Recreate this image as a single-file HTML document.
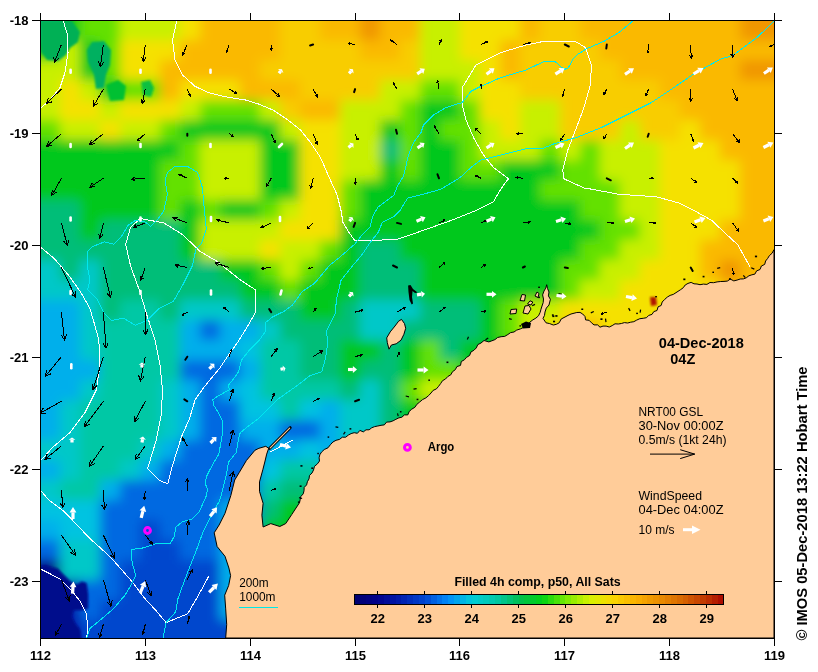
<!DOCTYPE html><html><head><meta charset="utf-8"><style>html,body{margin:0;padding:0;background:#fff;}svg{display:block;}text{font-family:"Liberation Sans",Arial,sans-serif;}</style></head><body>
<svg width="818" height="672" viewBox="0 0 818 672">
<defs><clipPath id="mc"><rect x="41" y="21" width="733" height="617"/></clipPath><filter id="bl" x="-5%" y="-5%" width="110%" height="110%"><feGaussianBlur stdDeviation="6"/></filter></defs>
<rect width="818" height="672" fill="#fff"/>
<g clip-path="url(#mc)"><g filter="url(#bl)" shape-rendering="crispEdges">
<rect x="20" y="0" width="40" height="20" fill="#00be78"/>
<rect x="60" y="0" width="20" height="20" fill="#00c81e"/>
<rect x="80" y="0" width="40" height="20" fill="#64e100"/>
<rect x="120" y="0" width="60" height="20" fill="#c8f000"/>
<rect x="180" y="0" width="20" height="20" fill="#f5e100"/>
<rect x="200" y="0" width="80" height="20" fill="#fab900"/>
<rect x="280" y="0" width="40" height="20" fill="#f8cd00"/>
<rect x="320" y="0" width="40" height="20" fill="#fab900"/>
<rect x="360" y="0" width="20" height="20" fill="#f09600"/>
<rect x="380" y="0" width="40" height="20" fill="#fab900"/>
<rect x="420" y="0" width="40" height="20" fill="#c8f000"/>
<rect x="460" y="0" width="60" height="20" fill="#f5e100"/>
<rect x="520" y="0" width="20" height="20" fill="#fab900"/>
<rect x="540" y="0" width="40" height="20" fill="#f8cd00"/>
<rect x="580" y="0" width="160" height="20" fill="#fab900"/>
<rect x="740" y="0" width="60" height="20" fill="#f09600"/>
<rect x="20" y="20" width="40" height="20" fill="#00be78"/>
<rect x="60" y="20" width="20" height="20" fill="#00c81e"/>
<rect x="80" y="20" width="40" height="20" fill="#64e100"/>
<rect x="120" y="20" width="60" height="20" fill="#c8f000"/>
<rect x="180" y="20" width="20" height="20" fill="#f5e100"/>
<rect x="200" y="20" width="80" height="20" fill="#fab900"/>
<rect x="280" y="20" width="40" height="20" fill="#f8cd00"/>
<rect x="320" y="20" width="40" height="20" fill="#fab900"/>
<rect x="360" y="20" width="20" height="20" fill="#f09600"/>
<rect x="380" y="20" width="40" height="20" fill="#fab900"/>
<rect x="420" y="20" width="40" height="20" fill="#c8f000"/>
<rect x="460" y="20" width="60" height="20" fill="#f5e100"/>
<rect x="520" y="20" width="20" height="20" fill="#fab900"/>
<rect x="540" y="20" width="40" height="20" fill="#f8cd00"/>
<rect x="580" y="20" width="160" height="20" fill="#fab900"/>
<rect x="740" y="20" width="60" height="20" fill="#f09600"/>
<rect x="20" y="40" width="40" height="20" fill="#00c81e"/>
<rect x="60" y="40" width="20" height="20" fill="#c8f000"/>
<rect x="80" y="40" width="20" height="20" fill="#00c81e"/>
<rect x="100" y="40" width="20" height="20" fill="#64e100"/>
<rect x="120" y="40" width="60" height="20" fill="#f5e100"/>
<rect x="180" y="40" width="100" height="20" fill="#fab900"/>
<rect x="280" y="40" width="80" height="20" fill="#f8cd00"/>
<rect x="360" y="40" width="40" height="20" fill="#fab900"/>
<rect x="400" y="40" width="20" height="20" fill="#f8cd00"/>
<rect x="420" y="40" width="40" height="20" fill="#c8f000"/>
<rect x="460" y="40" width="40" height="20" fill="#f5e100"/>
<rect x="500" y="40" width="20" height="20" fill="#fab900"/>
<rect x="520" y="40" width="80" height="20" fill="#f8cd00"/>
<rect x="600" y="40" width="200" height="20" fill="#fab900"/>
<rect x="20" y="60" width="60" height="20" fill="#c8f000"/>
<rect x="80" y="60" width="20" height="20" fill="#00c81e"/>
<rect x="100" y="60" width="20" height="20" fill="#64e100"/>
<rect x="120" y="60" width="40" height="20" fill="#f5e100"/>
<rect x="160" y="60" width="100" height="20" fill="#fab900"/>
<rect x="260" y="60" width="160" height="20" fill="#f8cd00"/>
<rect x="420" y="60" width="60" height="20" fill="#c8f000"/>
<rect x="480" y="60" width="20" height="20" fill="#f5e100"/>
<rect x="500" y="60" width="20" height="20" fill="#fab900"/>
<rect x="520" y="60" width="100" height="20" fill="#f8cd00"/>
<rect x="620" y="60" width="120" height="20" fill="#fab900"/>
<rect x="740" y="60" width="60" height="20" fill="#f09600"/>
<rect x="20" y="80" width="40" height="20" fill="#c8f000"/>
<rect x="60" y="80" width="20" height="20" fill="#f5e100"/>
<rect x="80" y="80" width="20" height="20" fill="#c8f000"/>
<rect x="100" y="80" width="20" height="20" fill="#00c81e"/>
<rect x="120" y="80" width="40" height="20" fill="#64e100"/>
<rect x="160" y="80" width="20" height="20" fill="#fab900"/>
<rect x="180" y="80" width="60" height="20" fill="#f5e100"/>
<rect x="240" y="80" width="60" height="20" fill="#fab900"/>
<rect x="300" y="80" width="80" height="20" fill="#f8cd00"/>
<rect x="380" y="80" width="40" height="20" fill="#c8f000"/>
<rect x="420" y="80" width="40" height="20" fill="#64e100"/>
<rect x="460" y="80" width="20" height="20" fill="#c8f000"/>
<rect x="480" y="80" width="40" height="20" fill="#f5e100"/>
<rect x="520" y="80" width="140" height="20" fill="#f8cd00"/>
<rect x="660" y="80" width="140" height="20" fill="#fab900"/>
<rect x="20" y="100" width="40" height="20" fill="#c8f000"/>
<rect x="60" y="100" width="40" height="20" fill="#f5e100"/>
<rect x="100" y="100" width="20" height="20" fill="#c8f000"/>
<rect x="120" y="100" width="60" height="20" fill="#f5e100"/>
<rect x="180" y="100" width="20" height="20" fill="#c8f000"/>
<rect x="200" y="100" width="60" height="20" fill="#64e100"/>
<rect x="260" y="100" width="20" height="20" fill="#c8f000"/>
<rect x="280" y="100" width="20" height="20" fill="#f8cd00"/>
<rect x="300" y="100" width="40" height="20" fill="#fab900"/>
<rect x="340" y="100" width="60" height="20" fill="#c8f000"/>
<rect x="400" y="100" width="20" height="20" fill="#64e100"/>
<rect x="420" y="100" width="40" height="20" fill="#00c81e"/>
<rect x="460" y="100" width="20" height="20" fill="#64e100"/>
<rect x="480" y="100" width="40" height="20" fill="#f5e100"/>
<rect x="520" y="100" width="40" height="20" fill="#c8f000"/>
<rect x="560" y="100" width="120" height="20" fill="#f8cd00"/>
<rect x="680" y="100" width="120" height="20" fill="#fab900"/>
<rect x="20" y="120" width="40" height="20" fill="#64e100"/>
<rect x="60" y="120" width="40" height="20" fill="#c8f000"/>
<rect x="100" y="120" width="20" height="20" fill="#f5e100"/>
<rect x="120" y="120" width="40" height="20" fill="#c8f000"/>
<rect x="160" y="120" width="20" height="20" fill="#64e100"/>
<rect x="180" y="120" width="100" height="20" fill="#00c81e"/>
<rect x="280" y="120" width="20" height="20" fill="#c8f000"/>
<rect x="300" y="120" width="40" height="20" fill="#f5e100"/>
<rect x="340" y="120" width="40" height="20" fill="#c8f000"/>
<rect x="380" y="120" width="20" height="20" fill="#00c81e"/>
<rect x="400" y="120" width="20" height="20" fill="#64e100"/>
<rect x="420" y="120" width="20" height="20" fill="#00c81e"/>
<rect x="440" y="120" width="40" height="20" fill="#64e100"/>
<rect x="480" y="120" width="20" height="20" fill="#c8f000"/>
<rect x="500" y="120" width="20" height="20" fill="#f5e100"/>
<rect x="520" y="120" width="40" height="20" fill="#c8f000"/>
<rect x="560" y="120" width="60" height="20" fill="#f8cd00"/>
<rect x="620" y="120" width="20" height="20" fill="#c8f000"/>
<rect x="640" y="120" width="40" height="20" fill="#f8cd00"/>
<rect x="680" y="120" width="20" height="20" fill="#f5e100"/>
<rect x="700" y="120" width="100" height="20" fill="#fab900"/>
<rect x="20" y="140" width="160" height="20" fill="#00c81e"/>
<rect x="180" y="140" width="20" height="20" fill="#64e100"/>
<rect x="200" y="140" width="60" height="20" fill="#c8f000"/>
<rect x="260" y="140" width="40" height="20" fill="#00c81e"/>
<rect x="300" y="140" width="40" height="20" fill="#f5e100"/>
<rect x="340" y="140" width="40" height="20" fill="#c8f000"/>
<rect x="380" y="140" width="20" height="20" fill="#00be78"/>
<rect x="400" y="140" width="20" height="20" fill="#64e100"/>
<rect x="420" y="140" width="40" height="20" fill="#00c81e"/>
<rect x="460" y="140" width="20" height="20" fill="#64e100"/>
<rect x="480" y="140" width="60" height="20" fill="#c8f000"/>
<rect x="540" y="140" width="20" height="20" fill="#64e100"/>
<rect x="560" y="140" width="20" height="20" fill="#c8f000"/>
<rect x="580" y="140" width="20" height="20" fill="#64e100"/>
<rect x="600" y="140" width="60" height="20" fill="#c8f000"/>
<rect x="660" y="140" width="60" height="20" fill="#f5e100"/>
<rect x="720" y="140" width="80" height="20" fill="#fab900"/>
<rect x="20" y="160" width="140" height="20" fill="#00c81e"/>
<rect x="160" y="160" width="40" height="20" fill="#64e100"/>
<rect x="200" y="160" width="60" height="20" fill="#c8f000"/>
<rect x="260" y="160" width="40" height="20" fill="#00c81e"/>
<rect x="300" y="160" width="40" height="20" fill="#f5e100"/>
<rect x="340" y="160" width="40" height="20" fill="#c8f000"/>
<rect x="380" y="160" width="20" height="20" fill="#00c81e"/>
<rect x="400" y="160" width="20" height="20" fill="#64e100"/>
<rect x="420" y="160" width="40" height="20" fill="#00c81e"/>
<rect x="460" y="160" width="40" height="20" fill="#64e100"/>
<rect x="500" y="160" width="60" height="20" fill="#00c81e"/>
<rect x="560" y="160" width="40" height="20" fill="#64e100"/>
<rect x="600" y="160" width="60" height="20" fill="#c8f000"/>
<rect x="660" y="160" width="80" height="20" fill="#f5e100"/>
<rect x="740" y="160" width="60" height="20" fill="#fab900"/>
<rect x="20" y="180" width="140" height="20" fill="#00c81e"/>
<rect x="160" y="180" width="40" height="20" fill="#64e100"/>
<rect x="200" y="180" width="60" height="20" fill="#c8f000"/>
<rect x="260" y="180" width="40" height="20" fill="#00c81e"/>
<rect x="300" y="180" width="40" height="20" fill="#f5e100"/>
<rect x="340" y="180" width="20" height="20" fill="#64e100"/>
<rect x="360" y="180" width="180" height="20" fill="#00c81e"/>
<rect x="540" y="180" width="80" height="20" fill="#64e100"/>
<rect x="620" y="180" width="40" height="20" fill="#c8f000"/>
<rect x="660" y="180" width="80" height="20" fill="#f5e100"/>
<rect x="740" y="180" width="60" height="20" fill="#fab900"/>
<rect x="20" y="200" width="60" height="20" fill="#00be78"/>
<rect x="80" y="200" width="80" height="20" fill="#00c81e"/>
<rect x="160" y="200" width="20" height="20" fill="#64e100"/>
<rect x="180" y="200" width="20" height="20" fill="#00c81e"/>
<rect x="200" y="200" width="20" height="20" fill="#64e100"/>
<rect x="220" y="200" width="40" height="20" fill="#00c81e"/>
<rect x="260" y="200" width="20" height="20" fill="#64e100"/>
<rect x="280" y="200" width="20" height="20" fill="#c8f000"/>
<rect x="300" y="200" width="40" height="20" fill="#f5e100"/>
<rect x="340" y="200" width="20" height="20" fill="#64e100"/>
<rect x="360" y="200" width="220" height="20" fill="#00c81e"/>
<rect x="580" y="200" width="40" height="20" fill="#64e100"/>
<rect x="620" y="200" width="40" height="20" fill="#c8f000"/>
<rect x="660" y="200" width="80" height="20" fill="#f5e100"/>
<rect x="740" y="200" width="60" height="20" fill="#fab900"/>
<rect x="20" y="220" width="60" height="20" fill="#00be78"/>
<rect x="80" y="220" width="20" height="20" fill="#00c81e"/>
<rect x="100" y="220" width="80" height="20" fill="#00be78"/>
<rect x="180" y="220" width="20" height="20" fill="#00c81e"/>
<rect x="200" y="220" width="80" height="20" fill="#c8f000"/>
<rect x="280" y="220" width="60" height="20" fill="#f5e100"/>
<rect x="340" y="220" width="260" height="20" fill="#00c81e"/>
<rect x="600" y="220" width="40" height="20" fill="#64e100"/>
<rect x="640" y="220" width="20" height="20" fill="#c8f000"/>
<rect x="660" y="220" width="60" height="20" fill="#f5e100"/>
<rect x="720" y="220" width="80" height="20" fill="#fab900"/>
<rect x="20" y="240" width="160" height="20" fill="#00be78"/>
<rect x="180" y="240" width="20" height="20" fill="#00c81e"/>
<rect x="200" y="240" width="60" height="20" fill="#c8f000"/>
<rect x="260" y="240" width="20" height="20" fill="#f5e100"/>
<rect x="280" y="240" width="40" height="20" fill="#c8f000"/>
<rect x="320" y="240" width="20" height="20" fill="#64e100"/>
<rect x="340" y="240" width="20" height="20" fill="#00c81e"/>
<rect x="360" y="240" width="40" height="20" fill="#00be78"/>
<rect x="400" y="240" width="180" height="20" fill="#00c81e"/>
<rect x="580" y="240" width="40" height="20" fill="#64e100"/>
<rect x="620" y="240" width="40" height="20" fill="#c8f000"/>
<rect x="660" y="240" width="40" height="20" fill="#f5e100"/>
<rect x="700" y="240" width="100" height="20" fill="#fab900"/>
<rect x="20" y="260" width="40" height="20" fill="#00c8c8"/>
<rect x="60" y="260" width="20" height="20" fill="#00be78"/>
<rect x="80" y="260" width="20" height="20" fill="#00c8c8"/>
<rect x="100" y="260" width="120" height="20" fill="#00be78"/>
<rect x="220" y="260" width="40" height="20" fill="#00c81e"/>
<rect x="260" y="260" width="20" height="20" fill="#64e100"/>
<rect x="280" y="260" width="20" height="20" fill="#c8f000"/>
<rect x="300" y="260" width="20" height="20" fill="#64e100"/>
<rect x="320" y="260" width="40" height="20" fill="#00c81e"/>
<rect x="360" y="260" width="60" height="20" fill="#00be78"/>
<rect x="420" y="260" width="140" height="20" fill="#00c81e"/>
<rect x="560" y="260" width="40" height="20" fill="#64e100"/>
<rect x="600" y="260" width="40" height="20" fill="#c8f000"/>
<rect x="640" y="260" width="60" height="20" fill="#f5e100"/>
<rect x="700" y="260" width="20" height="20" fill="#fab900"/>
<rect x="720" y="260" width="20" height="20" fill="#f09600"/>
<rect x="740" y="260" width="60" height="20" fill="#fab900"/>
<rect x="20" y="280" width="80" height="20" fill="#00c8c8"/>
<rect x="100" y="280" width="140" height="20" fill="#00be78"/>
<rect x="240" y="280" width="40" height="20" fill="#00c81e"/>
<rect x="280" y="280" width="20" height="20" fill="#64e100"/>
<rect x="300" y="280" width="60" height="20" fill="#00c81e"/>
<rect x="360" y="280" width="60" height="20" fill="#00be78"/>
<rect x="420" y="280" width="140" height="20" fill="#00c81e"/>
<rect x="560" y="280" width="20" height="20" fill="#64e100"/>
<rect x="580" y="280" width="40" height="20" fill="#c8f000"/>
<rect x="620" y="280" width="100" height="20" fill="#f5e100"/>
<rect x="720" y="280" width="80" height="20" fill="#fab900"/>
<rect x="20" y="300" width="60" height="20" fill="#00afeb"/>
<rect x="80" y="300" width="20" height="20" fill="#00c8c8"/>
<rect x="100" y="300" width="20" height="20" fill="#00be78"/>
<rect x="120" y="300" width="40" height="20" fill="#00c8a5"/>
<rect x="160" y="300" width="20" height="20" fill="#00be78"/>
<rect x="180" y="300" width="60" height="20" fill="#00c8c8"/>
<rect x="240" y="300" width="60" height="20" fill="#00be78"/>
<rect x="300" y="300" width="40" height="20" fill="#00c81e"/>
<rect x="340" y="300" width="20" height="20" fill="#00be78"/>
<rect x="360" y="300" width="60" height="20" fill="#00c8c8"/>
<rect x="420" y="300" width="60" height="20" fill="#00be78"/>
<rect x="480" y="300" width="20" height="20" fill="#00c81e"/>
<rect x="500" y="300" width="20" height="20" fill="#64e100"/>
<rect x="520" y="300" width="40" height="20" fill="#c8f000"/>
<rect x="560" y="300" width="140" height="20" fill="#f5e100"/>
<rect x="700" y="300" width="100" height="20" fill="#fab900"/>
<rect x="20" y="320" width="60" height="20" fill="#00afeb"/>
<rect x="80" y="320" width="20" height="20" fill="#00c8c8"/>
<rect x="100" y="320" width="80" height="20" fill="#00c8a5"/>
<rect x="180" y="320" width="20" height="20" fill="#00afeb"/>
<rect x="200" y="320" width="20" height="20" fill="#0069e1"/>
<rect x="220" y="320" width="40" height="20" fill="#00afeb"/>
<rect x="260" y="320" width="20" height="20" fill="#00c8c8"/>
<rect x="280" y="320" width="80" height="20" fill="#00be78"/>
<rect x="360" y="320" width="40" height="20" fill="#00c8c8"/>
<rect x="400" y="320" width="80" height="20" fill="#00be78"/>
<rect x="480" y="320" width="20" height="20" fill="#00c81e"/>
<rect x="500" y="320" width="20" height="20" fill="#64e100"/>
<rect x="520" y="320" width="20" height="20" fill="#c8f000"/>
<rect x="540" y="320" width="20" height="20" fill="#f5e100"/>
<rect x="560" y="320" width="40" height="20" fill="#fab900"/>
<rect x="600" y="320" width="100" height="20" fill="#f5e100"/>
<rect x="700" y="320" width="100" height="20" fill="#fab900"/>
<rect x="20" y="340" width="60" height="20" fill="#00afeb"/>
<rect x="80" y="340" width="20" height="20" fill="#00c8c8"/>
<rect x="100" y="340" width="80" height="20" fill="#00c8a5"/>
<rect x="180" y="340" width="60" height="20" fill="#00afeb"/>
<rect x="240" y="340" width="20" height="20" fill="#00c3e1"/>
<rect x="260" y="340" width="40" height="20" fill="#00c8a5"/>
<rect x="300" y="340" width="40" height="20" fill="#00be78"/>
<rect x="340" y="340" width="40" height="20" fill="#00c81e"/>
<rect x="380" y="340" width="20" height="20" fill="#00be78"/>
<rect x="400" y="340" width="20" height="20" fill="#00c81e"/>
<rect x="420" y="340" width="20" height="20" fill="#64e100"/>
<rect x="440" y="340" width="20" height="20" fill="#00be78"/>
<rect x="460" y="340" width="100" height="20" fill="#00c81e"/>
<rect x="560" y="340" width="20" height="20" fill="#c8f000"/>
<rect x="580" y="340" width="120" height="20" fill="#f5e100"/>
<rect x="700" y="340" width="100" height="20" fill="#fab900"/>
<rect x="20" y="360" width="80" height="20" fill="#00afeb"/>
<rect x="100" y="360" width="80" height="20" fill="#00c8a5"/>
<rect x="180" y="360" width="60" height="20" fill="#0069e1"/>
<rect x="240" y="360" width="20" height="20" fill="#00afeb"/>
<rect x="260" y="360" width="40" height="20" fill="#00c8a5"/>
<rect x="300" y="360" width="40" height="20" fill="#00be78"/>
<rect x="340" y="360" width="20" height="20" fill="#00c81e"/>
<rect x="360" y="360" width="40" height="20" fill="#00be78"/>
<rect x="400" y="360" width="20" height="20" fill="#00c81e"/>
<rect x="420" y="360" width="40" height="20" fill="#64e100"/>
<rect x="460" y="360" width="100" height="20" fill="#00c81e"/>
<rect x="560" y="360" width="20" height="20" fill="#c8f000"/>
<rect x="580" y="360" width="120" height="20" fill="#f5e100"/>
<rect x="700" y="360" width="100" height="20" fill="#fab900"/>
<rect x="20" y="380" width="60" height="20" fill="#00afeb"/>
<rect x="80" y="380" width="20" height="20" fill="#00c8c8"/>
<rect x="100" y="380" width="60" height="20" fill="#00c8a5"/>
<rect x="160" y="380" width="20" height="20" fill="#00c8c8"/>
<rect x="180" y="380" width="20" height="20" fill="#00afeb"/>
<rect x="200" y="380" width="20" height="20" fill="#0069e1"/>
<rect x="220" y="380" width="20" height="20" fill="#00afeb"/>
<rect x="240" y="380" width="20" height="20" fill="#00c3e1"/>
<rect x="260" y="380" width="80" height="20" fill="#00c8a5"/>
<rect x="340" y="380" width="20" height="20" fill="#00be78"/>
<rect x="360" y="380" width="20" height="20" fill="#00c8c8"/>
<rect x="380" y="380" width="20" height="20" fill="#00be78"/>
<rect x="400" y="380" width="20" height="20" fill="#64e100"/>
<rect x="420" y="380" width="40" height="20" fill="#c8f000"/>
<rect x="460" y="380" width="60" height="20" fill="#64e100"/>
<rect x="520" y="380" width="40" height="20" fill="#c8f000"/>
<rect x="560" y="380" width="140" height="20" fill="#f5e100"/>
<rect x="700" y="380" width="100" height="20" fill="#fab900"/>
<rect x="20" y="400" width="40" height="20" fill="#00afeb"/>
<rect x="60" y="400" width="20" height="20" fill="#00c8c8"/>
<rect x="80" y="400" width="80" height="20" fill="#00c8a5"/>
<rect x="160" y="400" width="20" height="20" fill="#00c8c8"/>
<rect x="180" y="400" width="20" height="20" fill="#00afeb"/>
<rect x="200" y="400" width="40" height="20" fill="#0069e1"/>
<rect x="240" y="400" width="40" height="20" fill="#00c3e1"/>
<rect x="280" y="400" width="20" height="20" fill="#00c8a5"/>
<rect x="300" y="400" width="20" height="20" fill="#00c3e1"/>
<rect x="320" y="400" width="20" height="20" fill="#00afeb"/>
<rect x="340" y="400" width="40" height="20" fill="#00c8c8"/>
<rect x="380" y="400" width="20" height="20" fill="#00be78"/>
<rect x="400" y="400" width="120" height="20" fill="#00c81e"/>
<rect x="520" y="400" width="40" height="20" fill="#64e100"/>
<rect x="560" y="400" width="40" height="20" fill="#c8f000"/>
<rect x="600" y="400" width="100" height="20" fill="#f5e100"/>
<rect x="700" y="400" width="100" height="20" fill="#fab900"/>
<rect x="20" y="420" width="40" height="20" fill="#00afeb"/>
<rect x="60" y="420" width="20" height="20" fill="#00c8c8"/>
<rect x="80" y="420" width="80" height="20" fill="#00c8a5"/>
<rect x="160" y="420" width="20" height="20" fill="#00c8c8"/>
<rect x="180" y="420" width="20" height="20" fill="#00afeb"/>
<rect x="200" y="420" width="40" height="20" fill="#0069e1"/>
<rect x="240" y="420" width="40" height="20" fill="#00afeb"/>
<rect x="280" y="420" width="40" height="20" fill="#0069e1"/>
<rect x="320" y="420" width="20" height="20" fill="#00afeb"/>
<rect x="340" y="420" width="40" height="20" fill="#00c8c8"/>
<rect x="380" y="420" width="20" height="20" fill="#00be78"/>
<rect x="400" y="420" width="100" height="20" fill="#00c81e"/>
<rect x="500" y="420" width="40" height="20" fill="#64e100"/>
<rect x="540" y="420" width="40" height="20" fill="#c8f000"/>
<rect x="580" y="420" width="120" height="20" fill="#f5e100"/>
<rect x="700" y="420" width="100" height="20" fill="#fab900"/>
<rect x="20" y="440" width="60" height="20" fill="#00c8c8"/>
<rect x="80" y="440" width="60" height="20" fill="#00c8a5"/>
<rect x="140" y="440" width="20" height="20" fill="#00c8c8"/>
<rect x="160" y="440" width="20" height="20" fill="#00afeb"/>
<rect x="180" y="440" width="80" height="20" fill="#0069e1"/>
<rect x="260" y="440" width="40" height="20" fill="#00afeb"/>
<rect x="300" y="440" width="20" height="20" fill="#00c3e1"/>
<rect x="320" y="440" width="20" height="20" fill="#00afeb"/>
<rect x="340" y="440" width="40" height="20" fill="#00c8c8"/>
<rect x="380" y="440" width="20" height="20" fill="#00be78"/>
<rect x="400" y="440" width="100" height="20" fill="#00c81e"/>
<rect x="500" y="440" width="40" height="20" fill="#64e100"/>
<rect x="540" y="440" width="40" height="20" fill="#c8f000"/>
<rect x="580" y="440" width="120" height="20" fill="#f5e100"/>
<rect x="700" y="440" width="100" height="20" fill="#fab900"/>
<rect x="20" y="460" width="40" height="20" fill="#00afeb"/>
<rect x="60" y="460" width="20" height="20" fill="#00c8c8"/>
<rect x="80" y="460" width="40" height="20" fill="#00c8a5"/>
<rect x="120" y="460" width="20" height="20" fill="#00c8c8"/>
<rect x="140" y="460" width="20" height="20" fill="#00afeb"/>
<rect x="160" y="460" width="100" height="20" fill="#0069e1"/>
<rect x="260" y="460" width="20" height="20" fill="#00c3e1"/>
<rect x="280" y="460" width="40" height="20" fill="#00c8a5"/>
<rect x="320" y="460" width="40" height="20" fill="#00c8c8"/>
<rect x="360" y="460" width="20" height="20" fill="#00be78"/>
<rect x="380" y="460" width="120" height="20" fill="#00c81e"/>
<rect x="500" y="460" width="40" height="20" fill="#64e100"/>
<rect x="540" y="460" width="40" height="20" fill="#c8f000"/>
<rect x="580" y="460" width="120" height="20" fill="#f5e100"/>
<rect x="700" y="460" width="100" height="20" fill="#fab900"/>
<rect x="20" y="480" width="40" height="20" fill="#00c8c8"/>
<rect x="60" y="480" width="40" height="20" fill="#00c8a5"/>
<rect x="100" y="480" width="20" height="20" fill="#00afeb"/>
<rect x="120" y="480" width="140" height="20" fill="#0069e1"/>
<rect x="260" y="480" width="20" height="20" fill="#00c8a5"/>
<rect x="280" y="480" width="80" height="20" fill="#00be78"/>
<rect x="360" y="480" width="140" height="20" fill="#00c81e"/>
<rect x="500" y="480" width="40" height="20" fill="#64e100"/>
<rect x="540" y="480" width="40" height="20" fill="#c8f000"/>
<rect x="580" y="480" width="120" height="20" fill="#f5e100"/>
<rect x="700" y="480" width="100" height="20" fill="#fab900"/>
<rect x="20" y="500" width="80" height="20" fill="#00c3e1"/>
<rect x="100" y="500" width="120" height="20" fill="#0069e1"/>
<rect x="220" y="500" width="20" height="20" fill="#00afeb"/>
<rect x="240" y="500" width="20" height="20" fill="#0069e1"/>
<rect x="260" y="500" width="20" height="20" fill="#00be78"/>
<rect x="280" y="500" width="220" height="20" fill="#00c81e"/>
<rect x="500" y="500" width="40" height="20" fill="#64e100"/>
<rect x="540" y="500" width="40" height="20" fill="#c8f000"/>
<rect x="580" y="500" width="120" height="20" fill="#f5e100"/>
<rect x="700" y="500" width="100" height="20" fill="#fab900"/>
<rect x="20" y="520" width="40" height="20" fill="#00afeb"/>
<rect x="60" y="520" width="40" height="20" fill="#00c3e1"/>
<rect x="100" y="520" width="40" height="20" fill="#0069e1"/>
<rect x="140" y="520" width="20" height="20" fill="#0046cd"/>
<rect x="160" y="520" width="60" height="20" fill="#0069e1"/>
<rect x="220" y="520" width="20" height="20" fill="#00afeb"/>
<rect x="240" y="520" width="20" height="20" fill="#0069e1"/>
<rect x="260" y="520" width="240" height="20" fill="#00c81e"/>
<rect x="500" y="520" width="40" height="20" fill="#64e100"/>
<rect x="540" y="520" width="40" height="20" fill="#c8f000"/>
<rect x="580" y="520" width="120" height="20" fill="#f5e100"/>
<rect x="700" y="520" width="100" height="20" fill="#fab900"/>
<rect x="20" y="540" width="40" height="20" fill="#0069e1"/>
<rect x="60" y="540" width="40" height="20" fill="#00c8c8"/>
<rect x="100" y="540" width="40" height="20" fill="#0069e1"/>
<rect x="140" y="540" width="40" height="20" fill="#0046cd"/>
<rect x="180" y="540" width="40" height="20" fill="#0069e1"/>
<rect x="220" y="540" width="20" height="20" fill="#00afeb"/>
<rect x="240" y="540" width="20" height="20" fill="#0069e1"/>
<rect x="260" y="540" width="20" height="20" fill="#00be78"/>
<rect x="280" y="540" width="220" height="20" fill="#00c81e"/>
<rect x="500" y="540" width="40" height="20" fill="#64e100"/>
<rect x="540" y="540" width="40" height="20" fill="#c8f000"/>
<rect x="580" y="540" width="120" height="20" fill="#f5e100"/>
<rect x="700" y="540" width="100" height="20" fill="#fab900"/>
<rect x="20" y="560" width="40" height="20" fill="#000082"/>
<rect x="60" y="560" width="40" height="20" fill="#00c8c8"/>
<rect x="100" y="560" width="20" height="20" fill="#0069e1"/>
<rect x="120" y="560" width="100" height="20" fill="#0046cd"/>
<rect x="220" y="560" width="20" height="20" fill="#00afeb"/>
<rect x="240" y="560" width="20" height="20" fill="#0046cd"/>
<rect x="260" y="560" width="20" height="20" fill="#00be78"/>
<rect x="280" y="560" width="220" height="20" fill="#00c81e"/>
<rect x="500" y="560" width="40" height="20" fill="#64e100"/>
<rect x="540" y="560" width="40" height="20" fill="#c8f000"/>
<rect x="580" y="560" width="120" height="20" fill="#f5e100"/>
<rect x="700" y="560" width="100" height="20" fill="#fab900"/>
<rect x="20" y="580" width="40" height="20" fill="#000082"/>
<rect x="60" y="580" width="20" height="20" fill="#001eaa"/>
<rect x="80" y="580" width="40" height="20" fill="#0069e1"/>
<rect x="120" y="580" width="100" height="20" fill="#0046cd"/>
<rect x="220" y="580" width="20" height="20" fill="#00afeb"/>
<rect x="240" y="580" width="20" height="20" fill="#0046cd"/>
<rect x="260" y="580" width="20" height="20" fill="#00be78"/>
<rect x="280" y="580" width="220" height="20" fill="#00c81e"/>
<rect x="500" y="580" width="40" height="20" fill="#64e100"/>
<rect x="540" y="580" width="40" height="20" fill="#c8f000"/>
<rect x="580" y="580" width="120" height="20" fill="#f5e100"/>
<rect x="700" y="580" width="100" height="20" fill="#fab900"/>
<rect x="20" y="600" width="40" height="20" fill="#000082"/>
<rect x="60" y="600" width="20" height="20" fill="#001eaa"/>
<rect x="80" y="600" width="20" height="20" fill="#0069e1"/>
<rect x="100" y="600" width="120" height="20" fill="#0046cd"/>
<rect x="220" y="600" width="20" height="20" fill="#00afeb"/>
<rect x="240" y="600" width="20" height="20" fill="#0046cd"/>
<rect x="260" y="600" width="20" height="20" fill="#00be78"/>
<rect x="280" y="600" width="220" height="20" fill="#00c81e"/>
<rect x="500" y="600" width="40" height="20" fill="#64e100"/>
<rect x="540" y="600" width="40" height="20" fill="#c8f000"/>
<rect x="580" y="600" width="120" height="20" fill="#f5e100"/>
<rect x="700" y="600" width="100" height="20" fill="#fab900"/>
<rect x="20" y="620" width="40" height="20" fill="#000082"/>
<rect x="60" y="620" width="20" height="20" fill="#001eaa"/>
<rect x="80" y="620" width="180" height="20" fill="#0046cd"/>
<rect x="260" y="620" width="20" height="20" fill="#00be78"/>
<rect x="280" y="620" width="220" height="20" fill="#00c81e"/>
<rect x="500" y="620" width="40" height="20" fill="#64e100"/>
<rect x="540" y="620" width="40" height="20" fill="#c8f000"/>
<rect x="580" y="620" width="120" height="20" fill="#f5e100"/>
<rect x="700" y="620" width="100" height="20" fill="#fab900"/>
<rect x="20" y="640" width="40" height="20" fill="#000082"/>
<rect x="60" y="640" width="20" height="20" fill="#001eaa"/>
<rect x="80" y="640" width="180" height="20" fill="#0046cd"/>
<rect x="260" y="640" width="20" height="20" fill="#00be78"/>
<rect x="280" y="640" width="220" height="20" fill="#00c81e"/>
<rect x="500" y="640" width="40" height="20" fill="#64e100"/>
<rect x="540" y="640" width="40" height="20" fill="#c8f000"/>
<rect x="580" y="640" width="120" height="20" fill="#f5e100"/>
<rect x="700" y="640" width="100" height="20" fill="#fab900"/>
</g></g>
<defs><filter id="bl2" x="-10%" y="-10%" width="120%" height="120%"><feGaussianBlur stdDeviation="1.2"/></filter></defs>
<g clip-path="url(#mc)"><g filter="url(#bl2)">
<path d="M38.0 567.0 L44.8 565.3 L51.2 567.0 L57.7 568.6 L62.5 573.4 L67.3 578.2 L72.1 583.0 L77.0 584.6 L81.8 581.4 L86.6 583.0 L88.2 594.3 L88.2 608.7 L81.8 610.3 L73.7 610.3 L72.1 616.7 L75.3 623.2 L80.2 629.6 L81.8 640.0 L38.0 640.0 Z" fill="#000a8c"/>
<path d="M41.0 21.0 L72.0 21.0 L80.0 32.0 L78.0 42.0 L70.0 48.0 L66.0 55.0 L58.0 61.0 L47.0 60.0 L41.0 52.0 Z" fill="#00b055"/>
<path d="M92.0 42.0 L104.0 41.0 L111.0 50.0 L110.0 65.0 L106.0 75.0 L104.0 88.0 L96.0 89.0 L94.0 75.0 L88.0 62.0 L87.0 50.0 Z" fill="#00b060"/>
<path d="M106.0 85.0 L118.0 80.0 L126.0 86.0 L124.0 100.0 L110.0 101.0 Z" fill="#00c030"/>
<path d="M141.0 82.0 L150.0 80.0 L154.0 88.0 L151.0 97.0 L143.0 95.0 Z" fill="#10c040"/>
<path d="M650.0 297.0 L656.0 297.0 L657.0 305.0 L651.0 306.0 Z" fill="#b01800"/>
</g></g>
<g clip-path="url(#mc)" fill="none" stroke-linejoin="round" shape-rendering="crispEdges">
<path d="M63.0 20.0 L67.5 35.0 L68.0 52.5 L65.0 72.5 L60.0 87.5 L50.0 100.0 L41.3 107.5 L40.0 108.5" stroke="#fff" stroke-width="1"/>
<path d="M177.0 20.0 L172.5 40.0 L175.0 60.0 L182.5 75.0 L195.0 86.3 L208.0 92.5 L223.0 96.3 L245.5 100.0 L258.0 103.8 L273.0 110.0 L288.0 120.0 L300.5 130.0 L310.5 142.5 L320.5 157.5 L329.3 177.6 L337.2 195.2 L341.1 210.9 L343.0 222.6 L348.9 232.4 L354.8 240.6 L370.4 240.6 L397.8 239.2 L417.4 232.4 L436.9 225.5 L451.0 220.5 L476.0 210.5 L493.5 201.8 L498.5 193.0 L503.5 185.0 L508.5 178.8 L503.5 175.0 L493.5 167.5 L483.5 155.0 L473.5 137.5 L466.0 120.0 L462.3 105.0 L462.3 87.5 L476.0 65.0 L501.0 52.5 L526.0 45.0 L544.0 41.3 L576.5 42.0 L585.3 47.5 L591.5 65.0 L590.3 85.0 L584.0 107.5 L576.5 127.5 L567.8 150.0 L562.8 170.0 L564.0 178.8 L584.0 188.0 L587.8 188.5 L619.0 194.3 L656.5 196.8 L679.0 203.0 L694.0 210.5 L712.0 220.5 L723.1 231.3 L737.8 244.8 L750.0 266.8" stroke="#fff" stroke-width="1"/>
<path d="M40.0 246.7 L54.3 258.6 L68.6 275.2 L80.5 291.9 L90.0 308.6 L94.8 325.2 L98.8 340.0 L100.0 365.0 L96.3 390.0 L85.0 412.5 L70.0 432.5 L52.5 447.5 L41.3 460.0 L40.0 461.0" stroke="#fff" stroke-width="1"/>
<path d="M140.0 218.5 L130.5 227.6 L125.7 244.3 L130.5 265.7 L140.0 291.9 L147.1 315.7 L155.0 340.0 L160.0 365.0 L162.5 390.0 L161.3 415.0 L156.3 440.0 L147.5 468.8 L160.0 480.7 L167.8 483.7 L171.7 468.0 L176.6 452.4 L181.5 436.7 L189.3 419.1 L195.2 399.6 L205.0 385.9 L209.9 380.0 L220.0 367.8 L227.8 356.1 L237.6 342.4 L247.4 326.7 L255.6 312.1 L255.2 289.6 L241.5 280.8 L227.8 270.0 L216.0 260.7 L200.0 251.4 L182.9 234.8 L163.8 222.9 L140.0 218.5" stroke="#fff" stroke-width="1"/>
<path d="M40.0 489.8 L48.8 500.0 L64.4 511.8 L71.4 519.0 L90.0 538.7 L100.0 547.6 L109.6 556.3 L119.0 566.7 L132.8 582.5 L144.5 598.1 L156.3 610.9 L166.1 622.6 L187.6 613.8 L197.4 597.2 L209.1 575.6" stroke="#fff" stroke-width="1"/>
<path d="M40.5 569.0 L59.5 578.6 L71.4 590.5 L80.0 601.0 L85.9 612.8 L87.8 624.5 L86.8 638.0" stroke="#fff" stroke-width="1"/>
<path d="M270.6 451.7 L293.1 440.0" stroke="#fff" stroke-width="1"/>
<path d="M634.0 20.0 L619.0 32.5 L604.0 41.3 L586.5 48.8 L576.8 55.0 L572.4 59.9 L570.4 64.3 L568.0 68.2 L565.0 69.2 L561.1 67.2 L557.7 63.8 L554.8 61.4 L544.0 61.5 L526.0 70.0 L501.0 77.5 L481.0 86.3 L471.0 91.3 L462.3 102.5 L446.0 107.5 L433.5 115.0 L423.5 125.0 L421.0 132.5 L413.5 142.5 L408.5 155.0 L403.7 175.6 L397.8 185.4 L393.9 195.2 L378.2 206.9 L372.4 216.7 L370.4 226.5 L362.6 234.3 L354.8 244.1 L339.1 257.8 L329.3 265.6 L317.0 280.5 L313.9 283.7 L302.2 291.5 L292.4 305.2 L284.5 311.1 L272.8 316.9 L265.0 322.8 L266.0 330.6 L259.1 340.4 L249.3 350.2 L241.5 360.0 L238.6 371.7 L231.7 381.5 L228.5 384.9 L229.4 389.8 L218.7 395.6 L212.8 399.6 L213.8 405.4 L218.7 413.3 L222.6 421.1 L222.6 432.8 L220.6 444.5 L218.7 454.3 L212.8 464.1 L206.9 475.8 L205.0 483.0 L207.5 489.0 L206.4 495.6 L199.5 511.3 L191.7 519.1 L181.9 522.1 L176.1 526.9 L174.1 536.7 L170.2 543.6 L156.5 543.6 L140.9 548.5 L131.1 549.4 L132.1 562.2 L135.7 575.6 L130.9 585.4 L125.0 595.2 L113.3 608.9 L99.6 620.6 L89.8 628.5 L86.8 638.0" stroke="#00e8f0" stroke-width="1"/>
<path d="M774.0 21.2 L757.4 37.1 L732.9 55.5 L720.7 59.1 L712.0 63.8 L694.0 73.8 L674.0 87.5 L651.5 102.5 L626.5 115.0 L601.5 127.5 L576.5 137.5 L554.0 143.8 L544.0 148.0 L526.0 148.8 L501.0 155.0 L481.0 160.0 L471.0 167.5 L460.0 177.6 L440.8 189.3 L423.2 194.2 L407.6 198.1 L399.8 210.9 L393.9 216.7 L382.2 222.6 L378.2 232.4 L370.4 242.2 L362.6 253.9 L352.8 265.6 L341.1 280.1 L336.4 299.3 L335.4 313.0 L326.6 330.6 L327.6 344.3 L325.6 358.0 L321.7 371.7 L310.0 375.6 L298.0 385.0 L288.0 392.0 L277.4 399.6 L257.8 419.1 L246.1 427.9 L240.2 432.8 L238.2 440.6 L236.3 452.4 L228.5 462.2 L226.5 473.9 L223.6 485.6 L221.0 496.0 L219.1 501.5 L211.3 515.2 L203.4 530.9 L195.6 552.4 L187.8 571.9 L181.9 587.6 L177.8 599.1 L175.8 611.8 L166.1 622.6 L163.1 638.0" stroke="#00e8f0" stroke-width="1"/>
<path d="M165.0 180.0 L167.5 172.5 L175.0 166.3 L187.5 166.3 L197.5 172.5 L202.5 188.0 L203.8 204.4 L206.3 228.9 L201.4 243.6 L196.0 249.0 L192.4 265.7 L182.9 284.8 L173.3 301.4 L159.0 308.6 L147.1 320.5 L135.2 325.2 L123.3 318.1 L111.4 320.5 L104.3 313.3 L97.1 299.0 L87.6 289.5 L90.0 280.0 L87.6 268.1 L87.6 251.4 L92.4 246.7 L104.3 241.9 L113.8 244.3 L121.0 237.1 L128.1 225.2 L135.2 220.5 L144.8 221.7 L150.7 226.4 L156.7 220.5 L163.8 211.0 L167.4 194.3 L165.0 180.0" stroke="#00e8f0" stroke-width="1"/>
</g>
<path d="M225.7 638.0 L226.7 624.5 L225.7 608.9 L224.7 595.2 L228.7 585.4 L230.6 575.6 L228.9 568.0 L225.0 556.3 L217.1 546.5 L214.2 532.8 L219.1 525.0 L225.0 513.3 L230.8 495.6 L234.7 480.0 L239.3 472.4 L246.4 460.5 L255.0 450.2 L258.9 448.3 L265.8 446.3 L268.7 448.3 L266.7 454.1 L264.8 462.0 L262.8 469.8 L259.5 481.9 L259.5 491.4 L263.1 503.3 L261.9 515.2 L263.1 527.0 L270.8 523.6 L279.8 526.5 L285.7 523.6 L291.7 514.6 L299.5 502.7 L300.2 499.6 L300.9 496.4 L303.2 493.9 L304.0 490.8 L304.2 487.4 L306.6 484.9 L307.4 481.7 L309.0 478.9 L309.5 475.4 L312.0 473.0 L313.5 470.0 L314.5 466.3 L317.4 463.9 L319.5 461.0 L319.1 457.8 L319.8 454.8 L321.5 452.1 L324.3 449.5 L328.0 447.8 L330.4 444.7 L332.9 442.0 L336.0 440.3 L339.5 439.4 L342.3 437.2 L345.7 437.2 L348.3 435.1 L351.1 433.6 L354.2 432.7 L357.4 433.3 L359.9 430.4 L363.3 431.9 L366.0 429.8 L369.1 429.8 L371.7 427.8 L374.7 426.6 L377.8 426.0 L381.0 425.3 L384.3 424.9 L386.6 422.1 L390.0 421.9 L393.1 420.8 L395.9 419.3 L398.8 417.9 L401.9 417.2 L404.4 414.9 L407.8 414.9 L409.2 411.5 L411.7 409.2 L414.9 407.3 L416.8 404.4 L419.7 402.0 L422.5 399.6 L425.9 397.9 L428.7 395.5 L431.0 393.0 L433.1 390.4 L436.4 388.9 L438.6 386.3 L440.6 383.6 L442.5 380.7 L445.5 379.0 L447.8 376.5 L450.8 374.8 L452.5 371.7 L455.3 369.7 L456.9 366.6 L460.5 365.4 L461.3 361.5 L464.4 359.8 L466.6 357.3 L469.6 355.5 L470.9 352.0 L473.9 350.3 L476.3 347.9 L477.8 344.6 L481.0 343.0 L484.0 340.5 L488.8 341.9 L491.9 340.8 L495.0 339.6 L497.6 337.5 L501.1 336.7 L504.7 336.4 L507.9 334.5 L510.6 332.6 L514.0 332.0 L516.7 330.1 L520.4 328.9 L524.0 327.2 L527.1 324.9 L529.8 322.2 L532.8 319.9 L535.9 318.1 L538.5 315.8 L540.1 312.5 L541.0 309.2 L542.0 306.0 L543.2 302.6 L543.5 299.0 L542.6 294.9 L544.0 291.0 L545.8 288.1 L546.7 284.7 L547.5 288.5 L549.0 292.0 L548.4 295.9 L550.4 299.3 L549.0 305.0 L546.3 308.1 L545.0 312.0 L544.5 315.4 L543.0 318.4 L546.0 322.8 L549.7 323.6 L553.3 325.0 L556.4 324.3 L559.2 322.8 L561.2 319.0 L565.0 317.0 L568.0 315.4 L571.0 314.0 L576.8 312.5 L580.0 312.4 L582.7 314.0 L585.0 316.5 L585.6 319.9 L589.1 320.3 L591.5 322.8 L594.0 324.9 L597.6 324.9 L600.0 327.2 L603.0 326.1 L606.1 326.1 L609.3 327.0 L612.2 325.6 L615.0 323.8 L618.3 324.0 L621.4 323.5 L624.4 322.6 L627.7 323.0 L630.7 322.2 L633.8 321.7 L636.7 320.1 L639.8 318.7 L643.2 318.3 L646.5 317.7 L648.7 315.4 L652.0 314.4 L653.8 311.6 L657.0 310.5 L658.1 306.8 L661.1 305.5 L662.2 302.0 L664.8 299.3 L667.3 297.1 L670.1 295.4 L673.3 294.4 L677.0 292.0 L680.7 289.6 L683.3 287.7 L685.2 285.0 L688.0 283.4 L691.1 282.4 L694.0 283.8 L697.0 284.0 L700.0 284.7 L703.4 284.1 L706.9 284.4 L710.0 282.5 L713.6 282.7 L717.1 281.9 L720.7 281.5 L724.0 281.4 L727.3 281.1 L730.3 279.1 L733.8 280.9 L737.0 280.1 L740.2 279.0 L743.4 278.9 L746.3 277.8 L748.9 275.8 L751.9 274.8 L754.9 274.1 L756.6 270.9 L760.0 269.5 L761.4 266.0 L764.7 264.4 L765.6 261.0 L767.7 258.4 L769.4 255.6 L772.0 253.3 L774.0 249.7 L774.0 638.0 Z" fill="#ffcc99" stroke="#000" stroke-width="1" stroke-linejoin="miter"/>
<rect x="297.9" y="501.4" width="1.8" height="1.5" fill="#000"/>
<path d="M299.0 497.6 l3.1 0.9" stroke="#000" stroke-width="1.2"/>
<rect x="299.6" y="485.4" width="2.0" height="1.6" fill="#000"/>
<rect x="300.4" y="465.1" width="2.1" height="1.6" fill="#000"/>
<rect x="311.3" y="467.4" width="1.9" height="1.6" fill="#000"/>
<rect x="317.3" y="452.8" width="1.6" height="1.4" fill="#000"/>
<rect x="327.6" y="436.4" width="1.6" height="1.4" fill="#000"/>
<path d="M335.5 426.9 l2.8 0.5" stroke="#000" stroke-width="1.2"/>
<path d="M345.2 431.8 l-1.7 2.5" stroke="#000" stroke-width="1.2"/>
<rect x="349.5" y="428.1" width="1.8" height="1.5" fill="#000"/>
<rect x="399.9" y="411.1" width="1.6" height="1.4" fill="#000"/>
<path d="M397.5 413.3 l0.7 2.8" stroke="#000" stroke-width="1.2"/>
<path d="M405.7 396.0 l3.3 0.8" stroke="#000" stroke-width="1.2"/>
<rect x="416.6" y="398.7" width="1.8" height="1.5" fill="#000"/>
<path d="M416.6 388.6 l-3.1 0.6" stroke="#000" stroke-width="1.2"/>
<rect x="428.3" y="379.5" width="1.7" height="1.4" fill="#000"/>
<rect x="446.5" y="361.5" width="1.9" height="1.6" fill="#000"/>
<path d="M468.5 336.7 l-1.2 2.7" stroke="#000" stroke-width="1.2"/>
<path d="M488.2 337.9 l-2.7 1.9" stroke="#000" stroke-width="1.2"/>
<path d="M509.0 318.6 l2.7 0.7" stroke="#000" stroke-width="1.2"/>
<rect x="519.4" y="325.2" width="1.6" height="1.4" fill="#000"/>
<path d="M535.0 304.4 l-2.9 1.4" stroke="#000" stroke-width="1.2"/>
<rect x="538.1" y="296.6" width="1.8" height="1.5" fill="#000"/>
<rect x="538.2" y="286.6" width="1.7" height="1.4" fill="#000"/>
<path d="M558.5 293.6 l3.2 0.7" stroke="#000" stroke-width="1.2"/>
<rect x="552.3" y="315.4" width="2.1" height="1.7" fill="#000"/>
<rect x="551.9" y="314.3" width="1.8" height="1.5" fill="#000"/>
<rect x="553.0" y="320.7" width="2.1" height="1.6" fill="#000"/>
<rect x="555.3" y="315.1" width="2.2" height="1.7" fill="#000"/>
<rect x="581.3" y="308.5" width="1.9" height="1.5" fill="#000"/>
<path d="M593.8 311.5 l-3.0 1.4" stroke="#000" stroke-width="1.2"/>
<rect x="600.4" y="318.3" width="2.1" height="1.7" fill="#000"/>
<path d="M605.5 318.7 l0.5 3.4" stroke="#000" stroke-width="1.2"/>
<path d="M628.6 308.1 l1.5 2.8" stroke="#000" stroke-width="1.2"/>
<rect x="636.2" y="312.7" width="1.7" height="1.4" fill="#000"/>
<path d="M640.6 309.6 l-0.5 3.0" stroke="#000" stroke-width="1.2"/>
<rect x="655.2" y="296.0" width="1.7" height="1.4" fill="#000"/>
<rect x="683.3" y="278.5" width="2.1" height="1.7" fill="#000"/>
<rect x="702.6" y="275.8" width="1.9" height="1.6" fill="#000"/>
<rect x="712.4" y="271.6" width="1.6" height="1.4" fill="#000"/>
<rect x="729.0" y="278.2" width="1.9" height="1.6" fill="#000"/>
<path d="M720.2 267.6 l-3.0 0.7" stroke="#000" stroke-width="1.2"/>
<path d="M743.3 275.4 l2.0 2.3" stroke="#000" stroke-width="1.2"/>
<path d="M751.2 267.8 l3.1 1.3" stroke="#000" stroke-width="1.2"/>
<rect x="754.9" y="255.6" width="2.2" height="1.7" fill="#000"/>
<path d="M520.0 300.5 L522.0 294.5 L525.5 295.0 L524.5 301.0 Z" fill="#ffcc99" stroke="#000" stroke-width="1"/>
<path d="M510.0 314.0 L511.0 309.5 L516.7 309.0 L516.0 313.5 Z" fill="#ffcc99" stroke="#000" stroke-width="1"/>
<path d="M523.0 313.0 L525.0 306.0 L529.0 305.5 L531.0 309.0 L528.0 314.0 Z" fill="#ffcc99" stroke="#000" stroke-width="1"/>
<path d="M527.5 304.0 L530.0 300.8 L532.8 302.0 L531.0 305.0 Z" fill="#ffcc99" stroke="#000" stroke-width="1"/>
<path d="M535.0 296.0 L537.0 292.0 L539.0 293.5 L538.0 297.5 Z" fill="#ffcc99" stroke="#000" stroke-width="1"/>
<path d="M521 324 L526 321.5 L531 323 L530 328 L523 328.5 Z" fill="#000"/>
<path d="M401.5 319.4 L404.5 323.6 L405.7 328.3 L403.9 334.3 L401.0 340.2 L396.2 343.8 L391.4 345.0 L389.0 349.2 L387.3 342.6 L386.7 337.9 L390.2 331.9 L395.0 326.0 L398.6 321.2 Z" fill="#ffcc99" stroke="#000" stroke-width="1"/>
<path d="M408.1 285.5 L410.5 285.0 L413.0 289.0 L417.6 292.6 L415.0 293.0 L412.5 291.0 L412.0 297.0 L413.0 303.5 L411.7 304.5 L409.5 300.0 L408.5 292.0 Z" fill="#000"/>
<path d="M269.7 448.3 L290.2 427.7" stroke="#000" stroke-width="3" stroke-linecap="round"/>
<path d="M270.2 447.8 L289.7 428.2" stroke="#ffcc99" stroke-width="1.2" stroke-linecap="round"/>
<g clip-path="url(#mc)">
<path d="M61.4 44.5 L54.4 62.5 M58.7 58.6 L54.4 62.5 L53.8 56.7" stroke="#000" stroke-width="1" fill="none" stroke-linejoin="round" shape-rendering="crispEdges"/>
<path d="M103.4 44.5 L100.4 67.0 M103.8 62.1 L100.4 67.0 L98.4 61.3" stroke="#000" stroke-width="1" fill="none" stroke-linejoin="round" shape-rendering="crispEdges"/>
<path d="M145.3 44.5 L143.3 61.5 M146.1 57.2 L143.3 61.5 L141.5 56.7" stroke="#000" stroke-width="1" fill="none" stroke-linejoin="round" shape-rendering="crispEdges"/>
<path d="M187.3 44.5 L182.3 55.5 M185.1 53.2 L182.3 55.5 L182.1 51.9" stroke="#000" stroke-width="1" fill="none" stroke-linejoin="round" shape-rendering="crispEdges"/>
<path d="M229.2 44.5 L226.7 52.5 M228.5 50.7 L226.7 52.5 L226.3 50.0" stroke="#000" stroke-width="1" fill="none" stroke-linejoin="round" shape-rendering="crispEdges"/>
<path d="M271.2 44.5 L271.2 50.5 M272.3 48.3 L271.2 50.5 L270.1 48.3" stroke="#000" stroke-width="1" fill="none" stroke-linejoin="round" shape-rendering="crispEdges"/>
<path d="M313.1 44.5 L310.1 45.5" stroke="#000" stroke-width="2" stroke-linecap="round"/>
<path d="M355.1 44.5 L348.1 43.5 M350.1 44.9 L348.1 43.5 L350.5 42.7" stroke="#000" stroke-width="1" fill="none" stroke-linejoin="round" shape-rendering="crispEdges"/>
<path d="M397.0 44.5 L390.5 40.0 M391.7 42.2 L390.5 40.0 L393.0 40.3" stroke="#000" stroke-width="1" fill="none" stroke-linejoin="round" shape-rendering="crispEdges"/>
<path d="M439.0 44.5 L441.5 39.5 M439.5 41.0 L441.5 39.5 L441.5 42.0" stroke="#000" stroke-width="1" fill="none" stroke-linejoin="round" shape-rendering="crispEdges"/>
<path d="M481.0 44.5 L488.0 41.5 M485.5 41.3 L488.0 41.5 L486.4 43.4" stroke="#000" stroke-width="1" fill="none" stroke-linejoin="round" shape-rendering="crispEdges"/>
<path d="M522.9 44.5 L530.4 42.5 M528.0 42.0 L530.4 42.5 L528.5 44.2" stroke="#000" stroke-width="1" fill="none" stroke-linejoin="round" shape-rendering="crispEdges"/>
<path d="M564.8 44.5 L568.8 46.5" stroke="#000" stroke-width="2" stroke-linecap="round"/>
<path d="M606.8 44.5 L606.3 48.5" stroke="#000" stroke-width="2" stroke-linecap="round"/>
<path d="M648.7 44.5 L647.7 53.0 M649.1 50.9 L647.7 53.0 L646.8 50.6" stroke="#000" stroke-width="1" fill="none" stroke-linejoin="round" shape-rendering="crispEdges"/>
<path d="M690.7 44.5 L691.2 58.5 M693.0 54.7 L691.2 58.5 L689.2 54.8" stroke="#000" stroke-width="1" fill="none" stroke-linejoin="round" shape-rendering="crispEdges"/>
<path d="M732.6 44.5 L732.6 57.5 M734.4 54.0 L732.6 57.5 L730.8 54.0" stroke="#000" stroke-width="1" fill="none" stroke-linejoin="round" shape-rendering="crispEdges"/>
<path d="M774.6 44.5 L769.6 46.5 M772.1 46.7 L769.6 46.5 L771.2 44.6" stroke="#000" stroke-width="1" fill="none" stroke-linejoin="round" shape-rendering="crispEdges"/>
<path d="M61.4 89.1 L46.4 103.6 M52.1 101.8 L46.4 103.6 L48.4 97.9" stroke="#000" stroke-width="1" fill="none" stroke-linejoin="round" shape-rendering="crispEdges"/>
<path d="M103.4 89.1 L93.4 106.1 M98.4 102.9 L93.4 106.1 L93.8 100.2" stroke="#000" stroke-width="1" fill="none" stroke-linejoin="round" shape-rendering="crispEdges"/>
<path d="M145.3 89.1 L142.3 103.6 M145.1 100.1 L142.3 103.6 L141.1 99.3" stroke="#000" stroke-width="1" fill="none" stroke-linejoin="round" shape-rendering="crispEdges"/>
<path d="M187.3 89.1 L190.3 96.1 M190.5 93.6 L190.3 96.1 L188.4 94.5" stroke="#000" stroke-width="1" fill="none" stroke-linejoin="round" shape-rendering="crispEdges"/>
<path d="M229.2 89.1 L236.7 93.6 M235.3 91.4 L236.7 93.6 L234.1 93.4" stroke="#000" stroke-width="1" fill="none" stroke-linejoin="round" shape-rendering="crispEdges"/>
<path d="M271.2 89.1 L279.7 96.6 M278.4 93.4 L279.7 96.6 L276.4 95.8" stroke="#000" stroke-width="1" fill="none" stroke-linejoin="round" shape-rendering="crispEdges"/>
<path d="M313.1 89.1 L317.6 97.1 M317.5 94.3 L317.6 97.1 L315.3 95.6" stroke="#000" stroke-width="1" fill="none" stroke-linejoin="round" shape-rendering="crispEdges"/>
<path d="M355.1 89.1 L354.1 92.1" stroke="#000" stroke-width="2" stroke-linecap="round"/>
<path d="M397.0 89.1 L393.0 82.6 M393.2 85.1 L393.0 82.6 L395.1 83.9" stroke="#000" stroke-width="1" fill="none" stroke-linejoin="round" shape-rendering="crispEdges"/>
<path d="M439.0 89.1 L437.5 80.1 M436.7 82.7 L437.5 80.1 L439.1 82.3" stroke="#000" stroke-width="1" fill="none" stroke-linejoin="round" shape-rendering="crispEdges"/>
<path d="M481.0 89.1 L481.0 84.1 M479.9 86.3 L481.0 84.1 L482.1 86.3" stroke="#000" stroke-width="1" fill="none" stroke-linejoin="round" shape-rendering="crispEdges"/>
<path d="M564.8 89.1 L562.3 96.1 M564.1 94.4 L562.3 96.1 L562.0 93.6" stroke="#000" stroke-width="1" fill="none" stroke-linejoin="round" shape-rendering="crispEdges"/>
<path d="M606.8 89.1 L603.8 94.6 M605.9 93.2 L603.8 94.6 L603.9 92.1" stroke="#000" stroke-width="1" fill="none" stroke-linejoin="round" shape-rendering="crispEdges"/>
<path d="M648.7 89.1 L645.7 95.6 M647.7 94.1 L645.7 95.6 L645.6 93.1" stroke="#000" stroke-width="1" fill="none" stroke-linejoin="round" shape-rendering="crispEdges"/>
<path d="M690.7 89.1 L690.7 101.6 M692.4 98.3 L690.7 101.6 L689.0 98.3" stroke="#000" stroke-width="1" fill="none" stroke-linejoin="round" shape-rendering="crispEdges"/>
<path d="M732.6 89.1 L737.1 100.6 M737.5 96.9 L737.1 100.6 L734.3 98.1" stroke="#000" stroke-width="1" fill="none" stroke-linejoin="round" shape-rendering="crispEdges"/>
<path d="M61.4 133.7 L46.4 146.7 M52.2 145.3 L46.4 146.7 L48.6 141.2" stroke="#000" stroke-width="1" fill="none" stroke-linejoin="round" shape-rendering="crispEdges"/>
<path d="M103.4 133.7 L89.4 144.7 M94.6 143.7 L89.4 144.7 L91.6 139.9" stroke="#000" stroke-width="1" fill="none" stroke-linejoin="round" shape-rendering="crispEdges"/>
<path d="M145.3 133.7 L137.3 140.7 M140.4 139.9 L137.3 140.7 L138.5 137.7" stroke="#000" stroke-width="1" fill="none" stroke-linejoin="round" shape-rendering="crispEdges"/>
<path d="M187.3 133.7 L187.3 135.7" stroke="#000" stroke-width="2" stroke-linecap="round"/>
<path d="M229.2 133.7 L233.2 136.2 M231.9 134.1 L233.2 136.2 L230.7 136.0" stroke="#000" stroke-width="1" fill="none" stroke-linejoin="round" shape-rendering="crispEdges"/>
<path d="M271.2 133.7 L275.2 142.7 M275.4 139.7 L275.2 142.7 L272.9 140.8" stroke="#000" stroke-width="1" fill="none" stroke-linejoin="round" shape-rendering="crispEdges"/>
<path d="M313.1 133.7 L317.6 144.7 M317.9 141.1 L317.6 144.7 L314.9 142.4" stroke="#000" stroke-width="1" fill="none" stroke-linejoin="round" shape-rendering="crispEdges"/>
<path d="M355.1 133.7 L358.1 140.2 M358.2 137.7 L358.1 140.2 L356.1 138.7" stroke="#000" stroke-width="1" fill="none" stroke-linejoin="round" shape-rendering="crispEdges"/>
<path d="M397.0 133.7 L396.0 129.7" stroke="#000" stroke-width="2" stroke-linecap="round"/>
<path d="M439.0 133.7 L434.0 125.7 M434.2 128.5 L434.0 125.7 L436.4 127.2" stroke="#000" stroke-width="1" fill="none" stroke-linejoin="round" shape-rendering="crispEdges"/>
<path d="M481.0 133.7 L475.0 128.2 M475.9 130.5 L475.0 128.2 L477.4 128.9" stroke="#000" stroke-width="1" fill="none" stroke-linejoin="round" shape-rendering="crispEdges"/>
<path d="M522.9 133.7 L516.9 133.7 M519.1 134.8 L516.9 133.7 L519.1 132.6" stroke="#000" stroke-width="1" fill="none" stroke-linejoin="round" shape-rendering="crispEdges"/>
<path d="M564.8 133.7 L560.8 140.2 M562.9 138.9 L560.8 140.2 L561.0 137.7" stroke="#000" stroke-width="1" fill="none" stroke-linejoin="round" shape-rendering="crispEdges"/>
<path d="M606.8 133.7 L603.8 138.7 M605.9 137.4 L603.8 138.7 L604.0 136.2" stroke="#000" stroke-width="1" fill="none" stroke-linejoin="round" shape-rendering="crispEdges"/>
<path d="M648.7 133.7 L647.7 136.7" stroke="#000" stroke-width="2" stroke-linecap="round"/>
<path d="M690.7 133.7 L693.7 141.2 M693.9 138.7 L693.7 141.2 L691.8 139.6" stroke="#000" stroke-width="1" fill="none" stroke-linejoin="round" shape-rendering="crispEdges"/>
<path d="M732.6 133.7 L739.6 142.7 M739.0 139.3 L739.6 142.7 L736.5 141.2" stroke="#000" stroke-width="1" fill="none" stroke-linejoin="round" shape-rendering="crispEdges"/>
<path d="M61.4 178.3 L51.9 195.3 M56.8 192.0 L51.9 195.3 L52.1 189.5" stroke="#000" stroke-width="1" fill="none" stroke-linejoin="round" shape-rendering="crispEdges"/>
<path d="M103.4 178.3 L89.9 187.3 M94.7 186.7 L89.9 187.3 L92.3 183.1" stroke="#000" stroke-width="1" fill="none" stroke-linejoin="round" shape-rendering="crispEdges"/>
<path d="M145.3 178.3 L131.3 179.3 M135.2 180.9 L131.3 179.3 L134.9 177.1" stroke="#000" stroke-width="1" fill="none" stroke-linejoin="round" shape-rendering="crispEdges"/>
<path d="M187.3 178.3 L178.8 174.3 M180.5 176.5 L178.8 174.3 L181.6 174.2" stroke="#000" stroke-width="1" fill="none" stroke-linejoin="round" shape-rendering="crispEdges"/>
<path d="M229.2 178.3 L224.2 178.3 M226.4 179.4 L224.2 178.3 L226.4 177.2" stroke="#000" stroke-width="1" fill="none" stroke-linejoin="round" shape-rendering="crispEdges"/>
<path d="M271.2 178.3 L266.7 186.3 M269.0 184.8 L266.7 186.3 L266.8 183.5" stroke="#000" stroke-width="1" fill="none" stroke-linejoin="round" shape-rendering="crispEdges"/>
<path d="M313.1 178.3 L310.6 188.3 M312.6 186.0 L310.6 188.3 L309.9 185.3" stroke="#000" stroke-width="1" fill="none" stroke-linejoin="round" shape-rendering="crispEdges"/>
<path d="M355.1 178.3 L355.6 184.3 M356.5 182.0 L355.6 184.3 L354.3 182.2" stroke="#000" stroke-width="1" fill="none" stroke-linejoin="round" shape-rendering="crispEdges"/>
<path d="M439.0 178.3 L437.5 174.3" stroke="#000" stroke-width="2" stroke-linecap="round"/>
<path d="M481.0 178.3 L475.0 175.3 M476.5 177.3 L475.0 175.3 L477.5 175.3" stroke="#000" stroke-width="1" fill="none" stroke-linejoin="round" shape-rendering="crispEdges"/>
<path d="M522.9 178.3 L515.9 177.3 M517.9 178.7 L515.9 177.3 L518.3 176.5" stroke="#000" stroke-width="1" fill="none" stroke-linejoin="round" shape-rendering="crispEdges"/>
<path d="M606.8 178.3 L610.8 180.3" stroke="#000" stroke-width="2" stroke-linecap="round"/>
<path d="M648.7 178.3 L653.7 178.3 M651.5 177.2 L653.7 178.3 L651.5 179.4" stroke="#000" stroke-width="1" fill="none" stroke-linejoin="round" shape-rendering="crispEdges"/>
<path d="M690.7 178.3 L696.7 182.3 M695.5 180.1 L696.7 182.3 L694.2 182.0" stroke="#000" stroke-width="1" fill="none" stroke-linejoin="round" shape-rendering="crispEdges"/>
<path d="M732.6 178.3 L737.6 183.3 M736.8 180.9 L737.6 183.3 L735.2 182.5" stroke="#000" stroke-width="1" fill="none" stroke-linejoin="round" shape-rendering="crispEdges"/>
<path d="M61.4 222.9 L67.4 245.5 M68.7 239.6 L67.4 245.5 L63.4 241.0" stroke="#000" stroke-width="1" fill="none" stroke-linejoin="round" shape-rendering="crispEdges"/>
<path d="M103.4 222.9 L99.8 238.3 M102.9 234.7 L99.8 238.3 L98.7 233.7" stroke="#000" stroke-width="1" fill="none" stroke-linejoin="round" shape-rendering="crispEdges"/>
<path d="M145.3 222.9 L133.3 227.6 M137.1 228.0 L133.3 227.6 L135.9 224.7" stroke="#000" stroke-width="1" fill="none" stroke-linejoin="round" shape-rendering="crispEdges"/>
<path d="M187.3 222.9 L173.0 217.6 M176.1 221.0 L173.0 217.6 L177.5 217.1" stroke="#000" stroke-width="1" fill="none" stroke-linejoin="round" shape-rendering="crispEdges"/>
<path d="M229.2 222.9 L216.7 219.9 M219.6 222.4 L216.7 219.9 L220.4 219.0" stroke="#000" stroke-width="1" fill="none" stroke-linejoin="round" shape-rendering="crispEdges"/>
<path d="M271.2 222.9 L260.7 227.9 M264.2 228.0 L260.7 227.9 L262.8 225.1" stroke="#000" stroke-width="1" fill="none" stroke-linejoin="round" shape-rendering="crispEdges"/>
<path d="M313.1 222.9 L307.1 228.9 M309.5 228.1 L307.1 228.9 L307.9 226.5" stroke="#000" stroke-width="1" fill="none" stroke-linejoin="round" shape-rendering="crispEdges"/>
<path d="M355.1 222.9 L353.6 226.9" stroke="#000" stroke-width="2" stroke-linecap="round"/>
<path d="M397.0 222.9 L401.0 223.9" stroke="#000" stroke-width="2" stroke-linecap="round"/>
<path d="M439.0 222.9 L445.0 219.9 M442.5 219.9 L445.0 219.9 L443.5 221.9" stroke="#000" stroke-width="1" fill="none" stroke-linejoin="round" shape-rendering="crispEdges"/>
<path d="M481.0 222.9 L487.0 220.4 M484.5 220.2 L487.0 220.4 L485.4 222.3" stroke="#000" stroke-width="1" fill="none" stroke-linejoin="round" shape-rendering="crispEdges"/>
<path d="M522.9 222.9 L530.4 221.9 M528.0 221.1 L530.4 221.9 L528.3 223.3" stroke="#000" stroke-width="1" fill="none" stroke-linejoin="round" shape-rendering="crispEdges"/>
<path d="M564.8 222.9 L570.8 223.9 M568.8 222.4 L570.8 223.9 L568.4 224.7" stroke="#000" stroke-width="1" fill="none" stroke-linejoin="round" shape-rendering="crispEdges"/>
<path d="M606.8 222.9 L613.8 222.9 M611.6 221.8 L613.8 222.9 L611.6 224.0" stroke="#000" stroke-width="1" fill="none" stroke-linejoin="round" shape-rendering="crispEdges"/>
<path d="M648.7 222.9 L655.7 222.9 M653.5 221.8 L655.7 222.9 L653.5 224.0" stroke="#000" stroke-width="1" fill="none" stroke-linejoin="round" shape-rendering="crispEdges"/>
<path d="M690.7 222.9 L696.7 227.4 M695.6 225.2 L696.7 227.4 L694.2 227.0" stroke="#000" stroke-width="1" fill="none" stroke-linejoin="round" shape-rendering="crispEdges"/>
<path d="M732.6 222.9 L738.6 231.4 M738.2 228.3 L738.6 231.4 L735.8 229.9" stroke="#000" stroke-width="1" fill="none" stroke-linejoin="round" shape-rendering="crispEdges"/>
<path d="M61.4 267.5 L75.7 297.3 M75.8 291.3 L75.7 297.3 L70.9 293.7" stroke="#000" stroke-width="1" fill="none" stroke-linejoin="round" shape-rendering="crispEdges"/>
<path d="M103.4 267.5 L110.5 297.3 M111.9 291.5 L110.5 297.3 L106.6 292.7" stroke="#000" stroke-width="1" fill="none" stroke-linejoin="round" shape-rendering="crispEdges"/>
<path d="M145.3 267.5 L140.5 280.6 M143.6 277.8 L140.5 280.6 L140.0 276.4" stroke="#000" stroke-width="1" fill="none" stroke-linejoin="round" shape-rendering="crispEdges"/>
<path d="M187.3 267.5 L174.9 265.1 M177.9 267.4 L174.9 265.1 L178.5 264.1" stroke="#000" stroke-width="1" fill="none" stroke-linejoin="round" shape-rendering="crispEdges"/>
<path d="M229.2 267.5 L215.2 263.0 M218.3 266.1 L215.2 263.0 L219.6 262.3" stroke="#000" stroke-width="1" fill="none" stroke-linejoin="round" shape-rendering="crispEdges"/>
<path d="M271.2 267.5 L261.2 268.5 M264.0 269.6 L261.2 268.5 L263.7 266.9" stroke="#000" stroke-width="1" fill="none" stroke-linejoin="round" shape-rendering="crispEdges"/>
<path d="M313.1 267.5 L308.1 268.5 M310.5 269.2 L308.1 268.5 L310.1 267.0" stroke="#000" stroke-width="1" fill="none" stroke-linejoin="round" shape-rendering="crispEdges"/>
<path d="M397.0 267.5 L393.0 265.5" stroke="#000" stroke-width="2" stroke-linecap="round"/>
<path d="M439.0 267.5 L445.0 262.5 M442.6 263.1 L445.0 262.5 L444.0 264.8" stroke="#000" stroke-width="1" fill="none" stroke-linejoin="round" shape-rendering="crispEdges"/>
<path d="M481.0 267.5 L485.5 264.5 M483.0 264.8 L485.5 264.5 L484.3 266.7" stroke="#000" stroke-width="1" fill="none" stroke-linejoin="round" shape-rendering="crispEdges"/>
<path d="M522.9 267.5 L524.9 266.5" stroke="#000" stroke-width="2" stroke-linecap="round"/>
<path d="M564.8 267.5 L567.8 268.0" stroke="#000" stroke-width="2" stroke-linecap="round"/>
<path d="M690.7 267.5 L692.7 271.0" stroke="#000" stroke-width="2" stroke-linecap="round"/>
<path d="M732.6 267.5 L733.6 275.0 M734.4 272.6 L733.6 275.0 L732.2 272.9" stroke="#000" stroke-width="1" fill="none" stroke-linejoin="round" shape-rendering="crispEdges"/>
<path d="M61.4 312.1 L64.5 340.0 M66.6 334.4 L64.5 340.0 L61.2 335.0" stroke="#000" stroke-width="1" fill="none" stroke-linejoin="round" shape-rendering="crispEdges"/>
<path d="M103.4 312.1 L106.0 348.1 M108.3 342.6 L106.0 348.1 L102.9 343.0" stroke="#000" stroke-width="1" fill="none" stroke-linejoin="round" shape-rendering="crispEdges"/>
<path d="M145.3 312.1 L145.3 334.8 M148.0 329.5 L145.3 334.8 L142.6 329.5" stroke="#000" stroke-width="1" fill="none" stroke-linejoin="round" shape-rendering="crispEdges"/>
<path d="M187.3 312.1 L182.1 315.2 M184.6 315.0 L182.1 315.2 L183.4 313.1" stroke="#000" stroke-width="1" fill="none" stroke-linejoin="round" shape-rendering="crispEdges"/>
<path d="M229.2 312.1 L223.2 307.1 M224.2 309.4 L223.2 307.1 L225.6 307.7" stroke="#000" stroke-width="1" fill="none" stroke-linejoin="round" shape-rendering="crispEdges"/>
<path d="M271.2 312.1 L269.2 309.1" stroke="#000" stroke-width="2" stroke-linecap="round"/>
<path d="M313.1 312.1 L316.1 308.1 M313.9 309.2 L316.1 308.1 L315.7 310.6" stroke="#000" stroke-width="1" fill="none" stroke-linejoin="round" shape-rendering="crispEdges"/>
<path d="M355.1 312.1 L363.1 310.1 M360.7 309.5 L363.1 310.1 L361.2 311.7" stroke="#000" stroke-width="1" fill="none" stroke-linejoin="round" shape-rendering="crispEdges"/>
<path d="M397.0 312.1 L405.5 307.1 M402.5 307.3 L405.5 307.1 L403.9 309.6" stroke="#000" stroke-width="1" fill="none" stroke-linejoin="round" shape-rendering="crispEdges"/>
<path d="M439.0 312.1 L445.5 307.1 M443.0 307.6 L445.5 307.1 L444.4 309.4" stroke="#000" stroke-width="1" fill="none" stroke-linejoin="round" shape-rendering="crispEdges"/>
<path d="M481.0 312.1 L486.0 311.1 M483.6 310.4 L486.0 311.1 L484.0 312.6" stroke="#000" stroke-width="1" fill="none" stroke-linejoin="round" shape-rendering="crispEdges"/>
<path d="M606.8 312.1 L600.8 314.1 M603.3 314.5 L600.8 314.1 L602.6 312.3" stroke="#000" stroke-width="1" fill="none" stroke-linejoin="round" shape-rendering="crispEdges"/>
<path d="M61.4 356.7 L45.4 376.2 M50.9 373.8 L45.4 376.2 L46.7 370.3" stroke="#000" stroke-width="1" fill="none" stroke-linejoin="round" shape-rendering="crispEdges"/>
<path d="M103.4 356.7 L92.9 389.7 M97.1 385.4 L92.9 389.7 L91.9 383.8" stroke="#000" stroke-width="1" fill="none" stroke-linejoin="round" shape-rendering="crispEdges"/>
<path d="M145.3 356.7 L140.3 381.2 M144.0 376.5 L140.3 381.2 L138.7 375.4" stroke="#000" stroke-width="1" fill="none" stroke-linejoin="round" shape-rendering="crispEdges"/>
<path d="M187.3 356.7 L185.3 359.7" stroke="#000" stroke-width="2" stroke-linecap="round"/>
<path d="M229.2 356.7 L231.7 349.7 M229.9 351.4 L231.7 349.7 L232.0 352.2" stroke="#000" stroke-width="1" fill="none" stroke-linejoin="round" shape-rendering="crispEdges"/>
<path d="M271.2 356.7 L277.2 348.7 M274.5 350.0 L277.2 348.7 L276.7 351.7" stroke="#000" stroke-width="1" fill="none" stroke-linejoin="round" shape-rendering="crispEdges"/>
<path d="M313.1 356.7 L322.6 350.7 M319.2 351.0 L322.6 350.7 L320.9 353.6" stroke="#000" stroke-width="1" fill="none" stroke-linejoin="round" shape-rendering="crispEdges"/>
<path d="M355.1 356.7 L362.1 354.7 M359.6 354.2 L362.1 354.7 L360.3 356.4" stroke="#000" stroke-width="1" fill="none" stroke-linejoin="round" shape-rendering="crispEdges"/>
<path d="M397.0 356.7 L400.0 352.2 M397.8 353.4 L400.0 352.2 L399.7 354.7" stroke="#000" stroke-width="1" fill="none" stroke-linejoin="round" shape-rendering="crispEdges"/>
<path d="M61.4 401.3 L39.9 413.3 M45.9 413.1 L39.9 413.3 L43.2 408.3" stroke="#000" stroke-width="1" fill="none" stroke-linejoin="round" shape-rendering="crispEdges"/>
<path d="M103.4 401.3 L84.4 426.8 M89.8 424.1 L84.4 426.8 L85.4 420.9" stroke="#000" stroke-width="1" fill="none" stroke-linejoin="round" shape-rendering="crispEdges"/>
<path d="M145.3 401.3 L134.3 421.8 M139.2 418.4 L134.3 421.8 L134.4 415.8" stroke="#000" stroke-width="1" fill="none" stroke-linejoin="round" shape-rendering="crispEdges"/>
<path d="M187.3 401.3 L184.3 399.3" stroke="#000" stroke-width="2" stroke-linecap="round"/>
<path d="M229.2 401.3 L233.2 389.3 M230.5 392.0 L233.2 389.3 L233.8 393.1" stroke="#000" stroke-width="1" fill="none" stroke-linejoin="round" shape-rendering="crispEdges"/>
<path d="M271.2 401.3 L274.2 393.3 M272.3 395.0 L274.2 393.3 L274.5 395.8" stroke="#000" stroke-width="1" fill="none" stroke-linejoin="round" shape-rendering="crispEdges"/>
<path d="M313.1 401.3 L319.1 398.3 M316.6 398.3 L319.1 398.3 L317.6 400.3" stroke="#000" stroke-width="1" fill="none" stroke-linejoin="round" shape-rendering="crispEdges"/>
<path d="M355.1 401.3 L359.1 399.8" stroke="#000" stroke-width="2" stroke-linecap="round"/>
<path d="M61.4 445.9 L44.9 459.4 M50.8 458.1 L44.9 459.4 L47.3 453.9" stroke="#000" stroke-width="1" fill="none" stroke-linejoin="round" shape-rendering="crispEdges"/>
<path d="M103.4 445.9 L89.4 466.4 M94.7 463.5 L89.4 466.4 L90.2 460.4" stroke="#000" stroke-width="1" fill="none" stroke-linejoin="round" shape-rendering="crispEdges"/>
<path d="M145.3 445.9 L135.3 459.4 M139.8 457.2 L135.3 459.4 L136.1 454.4" stroke="#000" stroke-width="1" fill="none" stroke-linejoin="round" shape-rendering="crispEdges"/>
<path d="M187.3 445.9 L182.3 437.9 M182.5 440.7 L182.3 437.9 L184.7 439.4" stroke="#000" stroke-width="1" fill="none" stroke-linejoin="round" shape-rendering="crispEdges"/>
<path d="M229.2 445.9 L233.2 429.9 M230.0 433.6 L233.2 429.9 L234.3 434.7" stroke="#000" stroke-width="1" fill="none" stroke-linejoin="round" shape-rendering="crispEdges"/>
<path d="M61.4 490.5 L62.9 507.5 M64.8 502.8 L62.9 507.5 L60.2 503.2" stroke="#000" stroke-width="1" fill="none" stroke-linejoin="round" shape-rendering="crispEdges"/>
<path d="M103.4 490.5 L104.4 509.5 M106.7 504.3 L104.4 509.5 L101.5 504.6" stroke="#000" stroke-width="1" fill="none" stroke-linejoin="round" shape-rendering="crispEdges"/>
<path d="M145.3 490.5 L144.3 499.5 M145.8 497.2 L144.3 499.5 L143.3 497.0" stroke="#000" stroke-width="1" fill="none" stroke-linejoin="round" shape-rendering="crispEdges"/>
<path d="M187.3 490.5 L187.3 478.5 M185.7 481.7 L187.3 478.5 L188.9 481.7" stroke="#000" stroke-width="1" fill="none" stroke-linejoin="round" shape-rendering="crispEdges"/>
<path d="M229.2 490.5 L233.2 471.5 M229.5 476.0 L233.2 471.5 L234.7 477.1" stroke="#000" stroke-width="1" fill="none" stroke-linejoin="round" shape-rendering="crispEdges"/>
<path d="M271.2 490.5 L276.2 488.0 M273.7 488.0 L276.2 488.0 L274.7 490.0" stroke="#000" stroke-width="1" fill="none" stroke-linejoin="round" shape-rendering="crispEdges"/>
<path d="M61.4 535.1 L75.4 555.1 M74.6 549.2 L75.4 555.1 L70.1 552.3" stroke="#000" stroke-width="1" fill="none" stroke-linejoin="round" shape-rendering="crispEdges"/>
<path d="M103.4 535.1 L114.4 558.1 M114.6 552.1 L114.4 558.1 L109.6 554.5" stroke="#000" stroke-width="1" fill="none" stroke-linejoin="round" shape-rendering="crispEdges"/>
<path d="M145.3 535.1 L152.3 544.1 M151.7 540.7 L152.3 544.1 L149.2 542.6" stroke="#000" stroke-width="1" fill="none" stroke-linejoin="round" shape-rendering="crispEdges"/>
<path d="M187.3 535.1 L188.3 520.6 M186.1 524.3 L188.3 520.6 L190.0 524.6" stroke="#000" stroke-width="1" fill="none" stroke-linejoin="round" shape-rendering="crispEdges"/>
<path d="M61.4 579.7 L69.4 601.2 M70.1 595.2 L69.4 601.2 L65.0 597.1" stroke="#000" stroke-width="1" fill="none" stroke-linejoin="round" shape-rendering="crispEdges"/>
<path d="M103.4 579.7 L110.9 606.2 M112.1 600.3 L110.9 606.2 L106.8 601.8" stroke="#000" stroke-width="1" fill="none" stroke-linejoin="round" shape-rendering="crispEdges"/>
<path d="M145.3 579.7 L151.0 595.7 M151.7 590.6 L151.0 595.7 L147.3 592.2" stroke="#000" stroke-width="1" fill="none" stroke-linejoin="round" shape-rendering="crispEdges"/>
<path d="M187.3 579.7 L192.2 569.9 M189.6 571.9 L192.2 569.9 L192.2 573.2" stroke="#000" stroke-width="1" fill="none" stroke-linejoin="round" shape-rendering="crispEdges"/>
<path d="M61.4 624.3 L55.4 635.3 M58.5 633.2 L55.4 635.3 L55.5 631.5" stroke="#000" stroke-width="1" fill="none" stroke-linejoin="round" shape-rendering="crispEdges"/>
<path d="M103.4 624.3 L99.4 637.3 M102.2 634.4 L99.4 637.3 L98.7 633.3" stroke="#000" stroke-width="1" fill="none" stroke-linejoin="round" shape-rendering="crispEdges"/>
<path d="M145.3 624.3 L142.8 634.3 M144.8 632.0 L142.8 634.3 L142.1 631.3" stroke="#000" stroke-width="1" fill="none" stroke-linejoin="round" shape-rendering="crispEdges"/>
<path d="M187.3 624.3 L189.3 616.3 M187.7 618.2 L189.3 616.3 L189.9 618.7" stroke="#000" stroke-width="1" fill="none" stroke-linejoin="round" shape-rendering="crispEdges"/>
<path d="M70.6 72.8 L70.6 69.8" stroke="#fff" stroke-width="2.6" stroke-linecap="round"/>
<path d="M140.5 72.8 L140.5 69.8" stroke="#fff" stroke-width="2.6" stroke-linecap="round"/>
<path d="M210.5 72.8 L210.5 69.8" stroke="#fff" stroke-width="2.6" stroke-linecap="round"/>
<path d="M279.0 73.3 L280.6 71.1" stroke="#fff" stroke-width="3.2"/>
<path d="M282.0 69.3 L283.4 73.1 L277.9 69.1 Z" fill="#fff"/>
<path d="M349.0 73.3 L351.2 71.1" stroke="#fff" stroke-width="3.2"/>
<path d="M353.0 69.3 L353.6 73.5 L348.8 68.7 Z" fill="#fff"/>
<path d="M417.2 73.8 L421.4 71.0" stroke="#fff" stroke-width="3.2"/>
<path d="M424.8 68.8 L423.3 73.9 L419.5 68.2 Z" fill="#fff"/>
<path d="M486.5 74.3 L490.9 71.0" stroke="#fff" stroke-width="3.2"/>
<path d="M494.5 68.3 L492.9 73.7 L488.9 68.3 Z" fill="#fff"/>
<path d="M555.4 74.2 L560.5 70.9" stroke="#fff" stroke-width="3.2"/>
<path d="M564.6 68.2 L562.3 73.8 L558.6 68.0 Z" fill="#fff"/>
<path d="M625.0 74.3 L630.0 71.0" stroke="#fff" stroke-width="3.2"/>
<path d="M634.0 68.3 L631.8 73.8 L628.1 68.2 Z" fill="#fff"/>
<path d="M693.5 74.0 L699.0 70.7" stroke="#fff" stroke-width="3.2"/>
<path d="M703.5 68.0 L700.7 73.6 L697.3 67.8 Z" fill="#fff"/>
<path d="M763.9 73.5 L768.9 70.2" stroke="#fff" stroke-width="3.2"/>
<path d="M772.9 67.5 L770.7 73.0 L767.0 67.4 Z" fill="#fff"/>
<path d="M70.6 147.0 L70.6 144.0" stroke="#fff" stroke-width="2.6" stroke-linecap="round"/>
<path d="M140.5 147.0 L140.5 144.0" stroke="#fff" stroke-width="2.6" stroke-linecap="round"/>
<path d="M210.5 147.0 L210.5 144.0" stroke="#fff" stroke-width="2.6" stroke-linecap="round"/>
<path d="M279.0 147.0 L282.0 144.0" stroke="#fff" stroke-width="2.6" stroke-linecap="round"/>
<path d="M348.5 147.5 L351.2 145.3" stroke="#fff" stroke-width="3.2"/>
<path d="M353.5 143.5 L353.4 148.0 L349.1 142.6 Z" fill="#fff"/>
<path d="M417.5 148.0 L421.4 145.2" stroke="#fff" stroke-width="3.2"/>
<path d="M424.5 143.0 L423.3 148.0 L419.4 142.5 Z" fill="#fff"/>
<path d="M486.5 148.0 L490.9 145.2" stroke="#fff" stroke-width="3.2"/>
<path d="M494.5 143.0 L492.7 148.1 L489.1 142.4 Z" fill="#fff"/>
<path d="M555.5 147.5 L560.5 145.3" stroke="#fff" stroke-width="3.2"/>
<path d="M564.5 143.5 L561.8 148.4 L559.1 142.2 Z" fill="#fff"/>
<path d="M625.0 148.5 L630.0 145.2" stroke="#fff" stroke-width="3.2"/>
<path d="M634.0 142.5 L631.8 148.0 L628.1 142.4 Z" fill="#fff"/>
<path d="M693.5 148.0 L699.0 145.2" stroke="#fff" stroke-width="3.2"/>
<path d="M703.5 143.0 L700.5 148.3 L697.5 142.2 Z" fill="#fff"/>
<path d="M763.4 147.5 L768.9 144.8" stroke="#fff" stroke-width="3.2"/>
<path d="M773.4 142.5 L770.4 147.8 L767.4 141.7 Z" fill="#fff"/>
<path d="M70.6 220.5 L70.6 217.5" stroke="#fff" stroke-width="2.6" stroke-linecap="round"/>
<path d="M140.5 220.5 L140.5 217.5" stroke="#fff" stroke-width="2.6" stroke-linecap="round"/>
<path d="M211.0 221.0 L211.0 217.0" stroke="#fff" stroke-width="2.6" stroke-linecap="round"/>
<path d="M280.0 221.0 L280.0 217.0" stroke="#fff" stroke-width="2.6" stroke-linecap="round"/>
<path d="M349.5 221.3 L351.1 219.1" stroke="#fff" stroke-width="3.2"/>
<path d="M352.5 217.3 L353.9 221.1 L348.4 217.1 Z" fill="#fff"/>
<path d="M416.5 221.3 L421.4 219.1" stroke="#fff" stroke-width="3.2"/>
<path d="M425.5 217.3 L422.8 222.2 L420.1 216.0 Z" fill="#fff"/>
<path d="M486.5 221.3 L491.4 219.1" stroke="#fff" stroke-width="3.2"/>
<path d="M495.5 217.3 L492.8 222.2 L490.1 216.0 Z" fill="#fff"/>
<path d="M556.0 221.5 L561.5 219.8" stroke="#fff" stroke-width="3.2"/>
<path d="M566.0 218.5 L562.5 223.1 L560.5 216.6 Z" fill="#fff"/>
<path d="M625.0 221.5 L630.5 219.8" stroke="#fff" stroke-width="3.2"/>
<path d="M635.0 218.5 L631.5 223.1 L629.5 216.6 Z" fill="#fff"/>
<path d="M694.5 222.0 L700.5 219.8" stroke="#fff" stroke-width="3.2"/>
<path d="M705.5 218.0 L701.7 223.0 L699.4 216.6 Z" fill="#fff"/>
<path d="M763.4 221.0 L768.9 218.8" stroke="#fff" stroke-width="3.2"/>
<path d="M773.4 217.0 L770.2 222.0 L767.6 215.6 Z" fill="#fff"/>
<path d="M70.6 294.0 L70.6 291.0" stroke="#fff" stroke-width="2.6" stroke-linecap="round"/>
<path d="M140.5 294.0 L140.5 291.0" stroke="#fff" stroke-width="2.6" stroke-linecap="round"/>
<path d="M211.0 294.5 L211.0 290.5" stroke="#fff" stroke-width="2.6" stroke-linecap="round"/>
<path d="M280.5 294.5 L281.5 290.5" stroke="#fff" stroke-width="2.6" stroke-linecap="round"/>
<path d="M349.0 296.3 L351.2 294.1" stroke="#fff" stroke-width="3.2"/>
<path d="M353.0 292.3 L353.6 296.5 L348.8 291.7 Z" fill="#fff"/>
<path d="M417.0 294.8 L421.4 294.2" stroke="#fff" stroke-width="3.2"/>
<path d="M425.0 293.8 L421.8 297.6 L421.0 290.9 Z" fill="#fff"/>
<path d="M486.5 294.3 L492.0 294.3" stroke="#fff" stroke-width="3.2"/>
<path d="M496.5 294.3 L492.0 297.7 L492.0 290.9 Z" fill="#fff"/>
<path d="M556.5 295.5 L562.0 296.1" stroke="#fff" stroke-width="3.2"/>
<path d="M566.5 296.5 L561.7 299.4 L562.3 292.7 Z" fill="#fff"/>
<path d="M626.0 296.5 L632.0 297.6" stroke="#fff" stroke-width="3.2"/>
<path d="M637.0 298.5 L631.4 300.9 L632.7 294.3 Z" fill="#fff"/>
<path d="M71.3 368.3 L71.3 364.3" stroke="#fff" stroke-width="2.6" stroke-linecap="round"/>
<path d="M142.0 367.5 L142.0 364.8" stroke="#fff" stroke-width="3.2"/>
<path d="M142.0 362.5 L145.4 364.8 L138.6 364.8 Z" fill="#fff"/>
<path d="M209.3 368.8 L212.1 366.1" stroke="#fff" stroke-width="3.2"/>
<path d="M214.3 363.8 L214.5 368.5 L209.6 363.6 Z" fill="#fff"/>
<path d="M280.5 369.3 L283.2 368.8" stroke="#fff" stroke-width="3.2"/>
<path d="M285.5 368.3 L283.9 372.1 L282.6 365.4 Z" fill="#fff"/>
<path d="M348.0 369.5 L352.9 369.5" stroke="#fff" stroke-width="3.2"/>
<path d="M357.0 369.5 L352.9 372.9 L352.9 366.1 Z" fill="#fff"/>
<path d="M417.5 370.0 L423.6 370.0" stroke="#fff" stroke-width="3.2"/>
<path d="M428.5 370.0 L423.6 373.4 L423.6 366.6 Z" fill="#fff"/>
<path d="M72.0 442.5 L72.0 439.8" stroke="#fff" stroke-width="3.2"/>
<path d="M72.0 437.5 L75.4 439.8 L68.6 439.8 Z" fill="#fff"/>
<path d="M142.0 442.5 L142.6 439.2" stroke="#fff" stroke-width="3.2"/>
<path d="M143.0 436.5 L145.9 439.8 L139.2 438.6 Z" fill="#fff"/>
<path d="M210.5 443.0 L213.8 439.7" stroke="#fff" stroke-width="3.2"/>
<path d="M216.5 437.0 L216.2 442.1 L211.4 437.3 Z" fill="#fff"/>
<path d="M280.0 444.5 L286.1 446.1" stroke="#fff" stroke-width="3.2"/>
<path d="M291.0 447.5 L285.2 449.4 L286.9 442.9 Z" fill="#fff"/>
<path d="M73.0 519.0 L73.0 512.4" stroke="#fff" stroke-width="3.2"/>
<path d="M73.0 507.0 L76.4 512.4 L69.6 512.4 Z" fill="#fff"/>
<path d="M141.2 517.8 L142.9 511.1" stroke="#fff" stroke-width="3.2"/>
<path d="M144.2 505.8 L146.2 512.0 L139.6 510.3 Z" fill="#fff"/>
<path d="M210.1 516.3 L213.9 511.4" stroke="#fff" stroke-width="3.2"/>
<path d="M217.1 507.3 L216.6 513.4 L211.3 509.3 Z" fill="#fff"/>
<path d="M72.5 593.6 L73.0 587.0" stroke="#fff" stroke-width="3.2"/>
<path d="M73.5 581.6 L76.4 587.3 L69.7 586.7 Z" fill="#fff"/>
<path d="M140.2 593.0 L143.1 586.1" stroke="#fff" stroke-width="3.2"/>
<path d="M145.2 581.0 L146.2 587.4 L139.9 584.8 Z" fill="#fff"/>
<path d="M209.1 592.4 L214.0 587.5" stroke="#fff" stroke-width="3.2"/>
<path d="M217.9 583.6 L216.4 589.9 L211.6 585.1 Z" fill="#fff"/>
</g>
<g stroke="#000" stroke-width="1" fill="none" shape-rendering="crispEdges">
<rect x="40.5" y="20.5" width="734" height="618"/>
<path d="M32 20.5 H40 M775 20.5 H782"/>
<path d="M32 133.5 H40 M775 133.5 H782"/>
<path d="M32 245.5 H40 M775 245.5 H782"/>
<path d="M32 357.5 H40 M775 357.5 H782"/>
<path d="M32 469.5 H40 M775 469.5 H782"/>
<path d="M32 581.5 H40 M775 581.5 H782"/>
<path d="M40.5 13 V20 M40.5 638 V646"/>
<path d="M145.5 13 V20 M145.5 638 V646"/>
<path d="M250.5 13 V20 M250.5 638 V646"/>
<path d="M355.5 13 V20 M355.5 638 V646"/>
<path d="M459.5 13 V20 M459.5 638 V646"/>
<path d="M564.5 13 V20 M564.5 638 V646"/>
<path d="M669.5 13 V20 M669.5 638 V646"/>
<path d="M774.5 13 V20 M774.5 638 V646"/>
</g>
<g font-weight="bold" font-size="13" fill="#000">
<text x="28.5" y="24.5" text-anchor="end">-18</text>
<text x="28.5" y="137.5" text-anchor="end">-19</text>
<text x="28.5" y="249.5" text-anchor="end">-20</text>
<text x="28.5" y="361.5" text-anchor="end">-21</text>
<text x="28.5" y="473.5" text-anchor="end">-22</text>
<text x="28.5" y="585.5" text-anchor="end">-23</text>
<text x="40.5" y="660" text-anchor="middle">112</text>
<text x="145.5" y="660" text-anchor="middle">113</text>
<text x="250.5" y="660" text-anchor="middle">114</text>
<text x="355.5" y="660" text-anchor="middle">115</text>
<text x="459.5" y="660" text-anchor="middle">116</text>
<text x="564.5" y="660" text-anchor="middle">117</text>
<text x="669.5" y="660" text-anchor="middle">118</text>
<text x="774.5" y="660" text-anchor="middle">119</text>
</g>
<g shape-rendering="crispEdges">
<rect x="354.50" y="595" width="6.26" height="10" fill="#000072"/>
<rect x="360.36" y="595" width="6.26" height="10" fill="#000079"/>
<rect x="366.21" y="595" width="6.26" height="10" fill="#000081"/>
<rect x="372.07" y="595" width="6.26" height="10" fill="#000088"/>
<rect x="377.93" y="595" width="6.26" height="10" fill="#000490"/>
<rect x="383.79" y="595" width="6.26" height="10" fill="#000b99"/>
<rect x="389.64" y="595" width="6.26" height="10" fill="#0013a2"/>
<rect x="395.50" y="595" width="6.26" height="10" fill="#001aaa"/>
<rect x="401.36" y="595" width="6.26" height="10" fill="#0023b3"/>
<rect x="407.21" y="595" width="6.26" height="10" fill="#002dbc"/>
<rect x="413.07" y="595" width="6.26" height="10" fill="#0037c5"/>
<rect x="418.93" y="595" width="6.26" height="10" fill="#0041cd"/>
<rect x="424.79" y="595" width="6.26" height="10" fill="#004ed7"/>
<rect x="430.64" y="595" width="6.26" height="10" fill="#0060e1"/>
<rect x="436.50" y="595" width="6.26" height="10" fill="#0071eb"/>
<rect x="442.36" y="595" width="6.26" height="10" fill="#0082f5"/>
<rect x="448.21" y="595" width="6.26" height="10" fill="#0093f6"/>
<rect x="454.07" y="595" width="6.26" height="10" fill="#00a4ed"/>
<rect x="459.93" y="595" width="6.26" height="10" fill="#00b4e5"/>
<rect x="465.79" y="595" width="6.26" height="10" fill="#00c4dc"/>
<rect x="471.64" y="595" width="6.26" height="10" fill="#00ccd2"/>
<rect x="477.50" y="595" width="6.26" height="10" fill="#00cbc7"/>
<rect x="483.36" y="595" width="6.26" height="10" fill="#00cabc"/>
<rect x="489.21" y="595" width="6.26" height="10" fill="#00c9b0"/>
<rect x="495.07" y="595" width="6.26" height="10" fill="#00c7a0"/>
<rect x="500.93" y="595" width="6.26" height="10" fill="#00c48a"/>
<rect x="506.79" y="595" width="6.26" height="10" fill="#00c274"/>
<rect x="512.64" y="595" width="6.26" height="10" fill="#00bf5d"/>
<rect x="518.50" y="595" width="6.26" height="10" fill="#00c04a"/>
<rect x="524.36" y="595" width="6.26" height="10" fill="#00c53b"/>
<rect x="530.21" y="595" width="6.26" height="10" fill="#00ca2c"/>
<rect x="536.07" y="595" width="6.26" height="10" fill="#00cf1d"/>
<rect x="541.93" y="595" width="6.26" height="10" fill="#0cd512"/>
<rect x="547.79" y="595" width="6.26" height="10" fill="#2adb0d"/>
<rect x="553.64" y="595" width="6.26" height="10" fill="#48e108"/>
<rect x="559.50" y="595" width="6.26" height="10" fill="#66e703"/>
<rect x="565.36" y="595" width="6.26" height="10" fill="#81ec00"/>
<rect x="571.21" y="595" width="6.26" height="10" fill="#99ed00"/>
<rect x="577.07" y="595" width="6.26" height="10" fill="#b1ef00"/>
<rect x="582.93" y="595" width="6.26" height="10" fill="#c8f100"/>
<rect x="588.79" y="595" width="6.26" height="10" fill="#daef00"/>
<rect x="594.64" y="595" width="6.26" height="10" fill="#e3e900"/>
<rect x="600.50" y="595" width="6.26" height="10" fill="#ece200"/>
<rect x="606.36" y="595" width="6.26" height="10" fill="#f4db00"/>
<rect x="612.21" y="595" width="6.26" height="10" fill="#fad300"/>
<rect x="618.07" y="595" width="6.26" height="10" fill="#fac900"/>
<rect x="623.93" y="595" width="6.26" height="10" fill="#fabf00"/>
<rect x="629.79" y="595" width="6.26" height="10" fill="#fab500"/>
<rect x="635.64" y="595" width="6.26" height="10" fill="#f9ac00"/>
<rect x="641.50" y="595" width="6.26" height="10" fill="#f5a300"/>
<rect x="647.36" y="595" width="6.26" height="10" fill="#f19a00"/>
<rect x="653.21" y="595" width="6.26" height="10" fill="#ed9200"/>
<rect x="659.07" y="595" width="6.26" height="10" fill="#e98900"/>
<rect x="664.93" y="595" width="6.26" height="10" fill="#e47f00"/>
<rect x="670.79" y="595" width="6.26" height="10" fill="#df7500"/>
<rect x="676.64" y="595" width="6.26" height="10" fill="#da6b00"/>
<rect x="682.50" y="595" width="6.26" height="10" fill="#d56000"/>
<rect x="688.36" y="595" width="6.26" height="10" fill="#cf5300"/>
<rect x="694.21" y="595" width="6.26" height="10" fill="#c84700"/>
<rect x="700.07" y="595" width="6.26" height="10" fill="#c23b00"/>
<rect x="705.93" y="595" width="6.26" height="10" fill="#bc2d00"/>
<rect x="711.79" y="595" width="6.26" height="10" fill="#b41d00"/>
<rect x="717.64" y="595" width="6.26" height="10" fill="#ac0e00"/>
</g>
<rect x="354.5" y="594.5" width="369" height="10" fill="none" stroke="#000" stroke-width="1"/>
<g stroke="#000" stroke-width="1" shape-rendering="crispEdges">
<path d="M377.5 591 V595 M377.5 604 V608"/>
<path d="M424.5 591 V595 M424.5 604 V608"/>
<path d="M471.5 591 V595 M471.5 604 V608"/>
<path d="M518.5 591 V595 M518.5 604 V608"/>
<path d="M565.5 591 V595 M565.5 604 V608"/>
<path d="M612.5 591 V595 M612.5 604 V608"/>
<path d="M659.5 591 V595 M659.5 604 V608"/>
<path d="M706.5 591 V595 M706.5 604 V608"/>
</g>
<g font-weight="bold" font-size="13" fill="#000" text-anchor="middle">
<text x="377.8" y="623.2">22</text>
<text x="424.8" y="623.2">23</text>
<text x="471.8" y="623.2">24</text>
<text x="518.8" y="623.2">25</text>
<text x="565.8" y="623.2">26</text>
<text x="612.8" y="623.2">27</text>
<text x="659.8" y="623.2">28</text>
<text x="706.8" y="623.2">29</text>
</g>
<text x="454.4" y="585.7" textLength="166.3" lengthAdjust="spacingAndGlyphs" font-weight="bold" font-size="12.5">Filled 4h comp, p50, All Sats</text>
<g font-size="12" fill="#000">
<text x="638.5" y="416.2" textLength="64.5" lengthAdjust="spacingAndGlyphs">NRT00 GSL</text>
<text x="638.5" y="430.2" textLength="85.0" lengthAdjust="spacingAndGlyphs">30-Nov 00:00Z</text>
<text x="638.5" y="443.5" textLength="88.0" lengthAdjust="spacingAndGlyphs">0.5m/s (1kt 24h)</text>
<text x="638.5" y="499.8" textLength="63.5" lengthAdjust="spacingAndGlyphs">WindSpeed</text>
<text x="638.5" y="514.3" textLength="85.0" lengthAdjust="spacingAndGlyphs">04-Dec 04:00Z</text>
<text x="638.5" y="533.7" textLength="36.0" lengthAdjust="spacingAndGlyphs">10 m/s</text>
<text x="239.2" y="587.0" textLength="29.5" lengthAdjust="spacingAndGlyphs">200m</text>
<text x="239.2" y="601.0" textLength="36.3" lengthAdjust="spacingAndGlyphs">1000m</text>
</g>
<path d="M650 454.1 H694.7 M680.2 449.7 L694.7 454.1 L680.2 458.6" stroke="#000" stroke-width="1" fill="none"/>
<path d="M683 529.7 H694" stroke="#fff" stroke-width="3"/><path d="M692 525.5 L700.5 529.7 L692 533.9 Z" fill="#fff"/>
<path d="M239 607.5 H278" stroke="#00e8e8" stroke-width="1.2"/>
<g font-weight="bold" font-size="14.5" fill="#000">
<text x="658.8" y="348.0" textLength="85.0" lengthAdjust="spacingAndGlyphs">04-Dec-2018</text>
<text x="670.3" y="363.7" textLength="25.0" lengthAdjust="spacingAndGlyphs">04Z</text>
</g>
<text x="427.8" y="451.0" textLength="26.5" lengthAdjust="spacingAndGlyphs" font-weight="bold" font-size="12">Argo</text>
<circle cx="407.4" cy="447.4" r="2.9" fill="none" stroke="#ff00ff" stroke-width="3"/>
<circle cx="147.5" cy="530.5" r="2.9" fill="none" stroke="#ff00ff" stroke-width="3"/>
<text transform="translate(806.6,640.5) rotate(-90)" font-weight="bold" font-size="14" textLength="274" lengthAdjust="spacingAndGlyphs">© IMOS 05-Dec-2018 13:22 Hobart Time</text>
</svg></body></html>
